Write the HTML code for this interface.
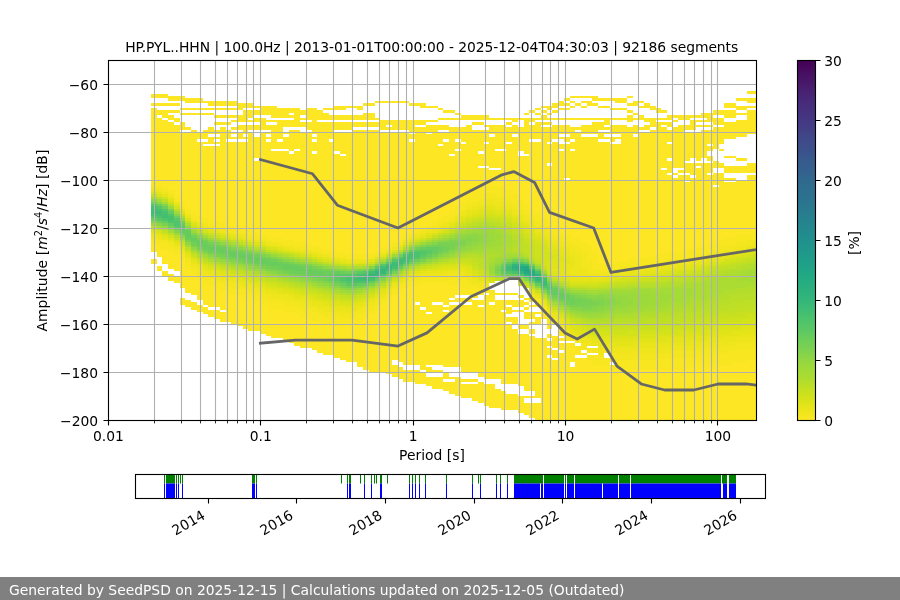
<!DOCTYPE html>
<html lang="en"><head><meta charset="utf-8"><title>HP.PYL..HHN PPSD</title>
<style>html,body{margin:0;padding:0;background:#fff;overflow:hidden}svg{display:block}text{font-family:'DejaVu Sans', 'Liberation Sans', sans-serif;font-size:13.89px;fill:#000}</style></head>
<body>
<svg width="900" height="600" viewBox="0 0 900 600">
<rect width="900" height="600" fill="#fff"/>
<g shape-rendering="crispEdges">
<path fill="#fde725" d="M151 93.6H168.2V98.4H151zM151 103.2H179.67V105.6H151zM363.14 103.2H374.6V105.6H363.14zM409.01 103.2H420.47V105.6H409.01zM563.81 103.2H569.54V105.6H563.81zM575.27 103.2H581.01V105.6H575.27zM592.47 103.2H598.21V105.6H592.47zM626.88 103.2H632.61V105.6H626.88zM151 108H156.73V182.4H151zM151 244.8H156.73V252H151zM151 259.2H156.73V264H151zM156.73 110.4H162.47V115.2H156.73zM254.2 110.4H259.94V115.2H254.2zM300.07 110.4H305.8V115.2H300.07zM712.88 110.4H724.34V115.2H712.88zM156.73 117.6H162.47V184.8H156.73zM156.73 247.2H162.47V256.8H156.73zM156.73 266.4H162.47V271.2H156.73zM162.47 110.4H168.2V117.6H162.47zM248.47 110.4H254.2V117.6H248.47zM724.34 110.4H735.81V117.6H724.34zM162.47 120H168.2V187.2H162.47zM162.47 249.6H168.2V264H162.47zM162.47 271.2H168.2V276H162.47zM168.2 96H185.4V100.8H168.2zM592.47 96H598.21V100.8H592.47zM168.2 110.4H179.67V112.8H168.2zM443.41 110.4H454.87V112.8H443.41zM529.41 110.4H535.14V112.8H529.41zM540.87 110.4H546.61V112.8H540.87zM552.34 110.4H558.07V112.8H552.34zM626.88 110.4H632.61V112.8H626.88zM661.28 110.4H667.01V112.8H661.28zM168.2 115.2H173.93V120H168.2zM328.74 115.2H363.14V120H328.74zM460.61 115.2H489.27V120H460.61zM540.87 115.2H546.61V120H540.87zM638.34 115.2H644.08V120H638.34zM667.01 115.2H672.74V120H667.01zM678.48 115.2H689.94V120H678.48zM168.2 122.4H173.93V189.6H168.2zM168.2 252H173.93V268.8H168.2zM168.2 273.6H173.93V280.8H168.2zM173.93 117.6H179.67V122.4H173.93zM254.2 117.6H259.94V122.4H254.2zM512.21 117.6H517.94V122.4H512.21zM529.41 117.6H535.14V122.4H529.41zM644.08 117.6H649.81V122.4H644.08zM173.93 124.8H179.67V196.8H173.93zM466.34 124.8H472.07V196.8H466.34zM173.93 254.4H179.67V271.2H173.93zM173.93 276H179.67V283.2H173.93zM179.67 108H237V110.4H179.67zM323 108H334.47V110.4H323zM437.67 108H443.41V110.4H437.67zM535.14 108H540.87V110.4H535.14zM558.07 108H569.54V110.4H558.07zM609.68 108H626.88V110.4H609.68zM179.67 112.8H214.07V115.2H179.67zM454.87 112.8H460.61V115.2H454.87zM523.67 112.8H529.41V115.2H523.67zM535.14 112.8H540.87V115.2H535.14zM546.61 112.8H552.34V115.2H546.61zM632.61 112.8H638.34V115.2H632.61zM735.81 112.8H747.28V115.2H735.81zM179.67 122.4H185.4V129.6H179.67zM305.8 122.4H311.54V129.6H305.8zM334.47 122.4H351.67V129.6H334.47zM598.21 122.4H603.94V129.6H598.21zM179.67 132H185.4V201.6H179.67zM179.67 259.2H185.4V288H179.67zM179.67 297.6H185.4V304.8H179.67zM185.4 98.4H202.6V103.2H185.4zM615.41 98.4H626.88V103.2H615.41zM747.28 98.4H756V103.2H747.28zM185.4 127.2H191.13V129.6H185.4zM231.27 127.2H237V129.6H231.27zM386.07 127.2H391.8V129.6H386.07zM575.27 127.2H581.01V129.6H575.27zM603.94 127.2H609.68V129.6H603.94zM638.34 127.2H644.08V129.6H638.34zM185.4 132H191.13V208.8H185.4zM185.4 268.8H191.13V292.8H185.4zM185.4 300H191.13V307.2H185.4zM512.21 300H523.67V307.2H512.21zM191.13 129.6H196.87V213.6H191.13zM191.13 273.6H196.87V295.2H191.13zM191.13 302.4H196.87V309.6H191.13zM196.87 132H202.6V139.2H196.87zM237 132H242.74V139.2H237zM443.41 132H449.14V139.2H443.41zM598.21 132H603.94V139.2H598.21zM196.87 141.6H202.6V216H196.87zM443.41 141.6H449.14V216H443.41zM196.87 278.4H202.6V300H196.87zM196.87 304.8H202.6V312H196.87zM202.6 100.8H208.34V103.2H202.6zM374.6 100.8H409.01V103.2H374.6zM569.54 100.8H575.27V103.2H569.54zM581.01 100.8H586.74V103.2H581.01zM638.34 100.8H644.08V103.2H638.34zM202.6 129.6H208.34V139.2H202.6zM225.54 129.6H231.27V139.2H225.54zM202.6 141.6H208.34V144H202.6zM214.07 141.6H219.8V144H214.07zM202.6 146.4H208.34V218.4H202.6zM437.67 146.4H443.41V218.4H437.67zM202.6 283.2H208.34V304.8H202.6zM443.41 283.2H449.14V304.8H443.41zM202.6 307.2H208.34V314.4H202.6zM506.47 307.2H512.21V314.4H506.47zM208.34 100.8H237V105.6H208.34zM558.07 100.8H563.81V105.6H558.07zM586.74 100.8H592.47V105.6H586.74zM632.61 100.8H638.34V105.6H632.61zM208.34 127.2H214.07V134.4H208.34zM208.34 136.8H214.07V144H208.34zM208.34 146.4H214.07V220.8H208.34zM208.34 285.6H214.07V307.2H208.34zM208.34 309.6H214.07V316.8H208.34zM214.07 115.2H237V117.6H214.07zM288.6 115.2H294.34V117.6H288.6zM672.74 115.2H678.48V117.6H672.74zM689.94 115.2H701.41V117.6H689.94zM214.07 122.4H231.27V124.8H214.07zM472.07 122.4H483.54V124.8H472.07zM506.47 122.4H512.21V124.8H506.47zM540.87 122.4H552.34V124.8H540.87zM661.28 122.4H667.01V124.8H661.28zM214.07 129.6H219.8V134.4H214.07zM214.07 136.8H219.8V139.2H214.07zM231.27 136.8H237V139.2H231.27zM242.74 136.8H248.47V139.2H242.74zM265.67 136.8H271.4V139.2H265.67zM311.54 136.8H317.27V139.2H311.54zM558.07 136.8H563.81V139.2H558.07zM603.94 136.8H609.68V139.2H603.94zM615.41 136.8H621.14V139.2H615.41zM214.07 146.4H219.8V223.2H214.07zM214.07 288H219.8V307.2H214.07zM214.07 309.6H219.8V319.2H214.07zM219.8 127.2H225.54V223.2H219.8zM219.8 290.4H225.54V309.6H219.8zM219.8 312H225.54V321.6H219.8zM225.54 141.6H231.27V225.6H225.54zM225.54 292.8H231.27V321.6H225.54zM231.27 120H237V122.4H231.27zM248.47 120H254.2V122.4H248.47zM265.67 120H277.14V122.4H265.67zM426.21 120H437.67V122.4H426.21zM672.74 120H678.48V122.4H672.74zM695.68 120H707.14V122.4H695.68zM231.27 132H237V134.4H231.27zM265.67 132H271.4V134.4H265.67zM282.87 132H288.6V134.4H282.87zM603.94 132H609.68V134.4H603.94zM231.27 141.6H242.74V228H231.27zM552.34 141.6H558.07V228H552.34zM231.27 295.2H237V324H231.27zM237 103.2H242.74V110.4H237zM237 115.2H242.74V122.4H237zM626.88 115.2H632.61V122.4H626.88zM237 124.8H242.74V129.6H237zM248.47 124.8H259.94V129.6H248.47zM265.67 124.8H271.4V129.6H265.67zM437.67 124.8H449.14V129.6H437.67zM644.08 124.8H649.81V129.6H644.08zM684.21 124.8H689.94V129.6H684.21zM237 295.2H242.74V326.4H237zM242.74 103.2H254.2V108H242.74zM420.47 103.2H426.21V108H420.47zM552.34 103.2H558.07V108H552.34zM644.08 103.2H649.81V108H644.08zM724.34 103.2H735.81V108H724.34zM242.74 110.4H248.47V122.4H242.74zM242.74 124.8H248.47V134.4H242.74zM489.27 124.8H495.01V134.4H489.27zM512.21 124.8H517.94V134.4H512.21zM558.07 124.8H569.54V134.4H558.07zM581.01 124.8H592.47V134.4H581.01zM609.68 124.8H621.14V134.4H609.68zM632.61 124.8H638.34V134.4H632.61zM242.74 141.6H248.47V230.4H242.74zM242.74 297.6H248.47V328.8H242.74zM248.47 132H254.2V230.4H248.47zM248.47 300H254.2V331.2H248.47zM254.2 105.6H259.94V108H254.2zM345.94 105.6H357.4V108H345.94zM426.21 105.6H437.67V108H426.21zM540.87 105.6H546.61V108H540.87zM569.54 105.6H575.27V108H569.54zM581.01 105.6H586.74V108H581.01zM598.21 105.6H609.68V108H598.21zM638.34 105.6H644.08V108H638.34zM747.28 105.6H756V108H747.28zM254.2 136.8H259.94V158.4H254.2zM254.2 160.8H259.94V232.8H254.2zM254.2 302.4H259.94V331.2H254.2zM259.94 105.6H271.4V115.2H259.94zM259.94 117.6H265.67V129.6H259.94zM259.94 132H265.67V235.2H259.94zM403.27 132H409.01V235.2H403.27zM259.94 304.8H265.67V333.6H259.94zM265.67 141.6H271.4V235.2H265.67zM265.67 307.2H271.4V336H265.67zM271.4 105.6H277.14V117.6H271.4zM271.4 124.8H277.14V148.8H271.4zM495.01 124.8H506.47V148.8H495.01zM271.4 151.2H282.87V237.6H271.4zM569.54 151.2H575.27V237.6H569.54zM271.4 309.6H282.87V338.4H271.4zM277.14 108H288.6V117.6H277.14zM277.14 120H282.87V139.2H277.14zM277.14 141.6H282.87V148.8H277.14zM454.87 141.6H460.61V148.8H454.87zM569.54 141.6H575.27V148.8H569.54zM282.87 120H294.34V127.2H282.87zM282.87 136.8H288.6V148.8H282.87zM282.87 151.2H288.6V240H282.87zM282.87 312H288.6V340.8H282.87zM288.6 108H294.34V112.8H288.6zM655.54 108H661.28V112.8H655.54zM288.6 129.6H294.34V151.2H288.6zM477.81 129.6H483.54V151.2H477.81zM288.6 153.6H294.34V240H288.6zM288.6 312H294.34V343.2H288.6zM294.34 108H300.07V127.2H294.34zM294.34 129.6H300.07V148.8H294.34zM294.34 151.2H300.07V242.4H294.34zM294.34 314.4H300.07V345.6H294.34zM300.07 117.6H305.8V120H300.07zM374.6 117.6H380.34V120H374.6zM437.67 117.6H460.61V120H437.67zM489.27 117.6H512.21V120H489.27zM517.94 117.6H523.67V120H517.94zM535.14 117.6H540.87V120H535.14zM546.61 117.6H603.94V120H546.61zM609.68 117.6H626.88V120H609.68zM632.61 117.6H638.34V120H632.61zM655.54 117.6H667.01V120H655.54zM300.07 122.4H305.8V127.2H300.07zM351.67 122.4H380.34V127.2H351.67zM667.01 122.4H672.74V127.2H667.01zM300.07 132H305.8V242.4H300.07zM391.8 132H397.54V242.4H391.8zM300.07 316.8H305.8V348H300.07zM305.8 108H311.54V120H305.8zM305.8 132H311.54V244.8H305.8zM386.07 132H391.8V244.8H386.07zM305.8 319.2H311.54V348H305.8zM311.54 108H317.27V134.4H311.54zM311.54 141.6H317.27V151.2H311.54zM311.54 153.6H317.27V247.2H311.54zM311.54 321.6H317.27V350.4H311.54zM317.27 110.4H323V120H317.27zM317.27 122.4H323V247.2H317.27zM317.27 321.6H323V352.8H317.27zM323 112.8H328.74V120H323zM363.14 112.8H374.6V120H363.14zM323 122.4H328.74V249.6H323zM323 324H328.74V355.2H323zM328.74 122.4H334.47V139.2H328.74zM535.14 122.4H540.87V139.2H535.14zM724.34 122.4H735.81V139.2H724.34zM328.74 141.6H334.47V252H328.74zM328.74 326.4H334.47V355.2H328.74zM334.47 105.6H345.94V110.4H334.47zM357.4 105.6H363.14V110.4H357.4zM546.61 105.6H552.34V110.4H546.61zM649.81 105.6H655.54V110.4H649.81zM735.81 105.6H747.28V110.4H735.81zM334.47 132H340.2V151.2H334.47zM334.47 153.6H340.2V252H334.47zM334.47 326.4H340.2V357.6H334.47zM340.2 132H345.94V153.6H340.2zM340.2 156H345.94V254.4H340.2zM340.2 326.4H345.94V360H340.2zM345.94 132H351.67V254.4H345.94zM345.94 326.4H351.67V362.4H345.94zM351.67 129.6H374.6V254.4H351.67zM351.67 324H357.4V362.4H351.67zM357.4 321.6H363.14V367.2H357.4zM363.14 319.2H368.87V369.6H363.14zM368.87 314.4H374.6V372H368.87zM374.6 129.6H380.34V252H374.6zM374.6 309.6H380.34V372H374.6zM380.34 120H386.07V129.6H380.34zM391.8 120H409.01V129.6H391.8zM689.94 120H695.68V129.6H689.94zM380.34 132H386.07V247.2H380.34zM380.34 304.8H386.07V372H380.34zM460.61 304.8H472.07V372H460.61zM386.07 120H391.8V124.8H386.07zM414.74 120H426.21V124.8H414.74zM386.07 300H391.8V374.4H386.07zM391.8 295.2H397.54V360H391.8zM391.8 364.8H397.54V376.8H391.8zM397.54 132H403.27V240H397.54zM397.54 290.4H403.27V362.4H397.54zM397.54 367.2H403.27V379.2H397.54zM403.27 288H409.01V364.8H403.27zM403.27 369.6H414.74V381.6H403.27zM409.01 120H414.74V132H409.01zM409.01 134.4H414.74V139.2H409.01zM409.01 141.6H414.74V232.8H409.01zM409.01 285.6H414.74V364.8H409.01zM414.74 127.2H420.47V230.4H414.74zM414.74 285.6H420.47V302.4H414.74zM414.74 304.8H420.47V364.8H414.74zM431.94 304.8H443.41V364.8H431.94zM414.74 369.6H420.47V384H414.74zM420.47 127.2H426.21V228H420.47zM420.47 283.2H426.21V307.2H420.47zM420.47 309.6H426.21V369.6H420.47zM420.47 372H426.21V384H420.47zM426.21 124.8H431.94V132H426.21zM426.21 134.4H431.94V225.6H426.21zM426.21 283.2H431.94V312H426.21zM426.21 314.4H431.94V364.8H426.21zM426.21 367.2H431.94V372H426.21zM426.21 376.8H431.94V386.4H426.21zM431.94 124.8H437.67V220.8H431.94zM431.94 283.2H443.41V302.4H431.94zM431.94 369.6H443.41V372H431.94zM431.94 376.8H443.41V388.8H431.94zM437.67 132H443.41V144H437.67zM443.41 307.2H449.14V309.6H443.41zM523.67 307.2H529.41V309.6H523.67zM443.41 312H449.14V367.2H443.41zM443.41 372H449.14V379.2H443.41zM443.41 381.6H449.14V391.2H443.41zM449.14 127.2H454.87V153.6H449.14zM449.14 156H454.87V211.2H449.14zM449.14 285.6H454.87V297.6H449.14zM449.14 300H454.87V302.4H449.14zM449.14 304.8H460.61V367.2H449.14zM449.14 376.8H454.87V379.2H449.14zM449.14 381.6H454.87V393.6H449.14zM454.87 127.2H460.61V139.2H454.87zM569.54 127.2H575.27V139.2H569.54zM454.87 151.2H460.61V206.4H454.87zM454.87 285.6H460.61V295.2H454.87zM454.87 297.6H472.07V302.4H454.87zM454.87 376.8H460.61V396H454.87zM460.61 127.2H466.34V141.6H460.61zM506.47 127.2H512.21V141.6H506.47zM546.61 127.2H552.34V141.6H546.61zM460.61 144H466.34V201.6H460.61zM460.61 288H466.34V295.2H460.61zM460.61 379.2H477.81V381.6H460.61zM460.61 384H472.07V398.4H460.61zM466.34 290.4H472.07V295.2H466.34zM472.07 129.6H477.81V192H472.07zM472.07 290.4H477.81V297.6H472.07zM472.07 300H477.81V372H472.07zM472.07 384H477.81V400.8H472.07zM477.81 153.6H483.54V165.6H477.81zM477.81 168H483.54V189.6H477.81zM477.81 292.8H483.54V295.2H477.81zM477.81 300H483.54V304.8H477.81zM506.47 300H512.21V304.8H506.47zM477.81 307.2H483.54V376.8H477.81zM477.81 381.6H483.54V403.2H477.81zM483.54 124.8H489.27V127.2H483.54zM695.68 124.8H712.88V127.2H695.68zM483.54 129.6H489.27V141.6H483.54zM667.01 129.6H672.74V141.6H667.01zM483.54 144H489.27V165.6H483.54zM483.54 168H489.27V187.2H483.54zM483.54 295.2H489.27V379.2H483.54zM483.54 384H489.27V405.6H483.54zM489.27 136.8H495.01V168H489.27zM489.27 170.4H495.01V184.8H489.27zM489.27 295.2H495.01V302.4H489.27zM489.27 304.8H495.01V379.2H489.27zM489.27 384H495.01V408H489.27zM495.01 151.2H500.74V168H495.01zM495.01 170.4H500.74V187.2H495.01zM495.01 300H500.74V379.2H495.01zM495.01 388.8H500.74V408H495.01zM500.74 151.2H506.47V187.2H500.74zM500.74 300H506.47V309.6H500.74zM500.74 312H506.47V384H500.74zM500.74 391.2H506.47V410.4H500.74zM506.47 144H512.21V189.6H506.47zM506.47 316.8H512.21V321.6H506.47zM506.47 324H512.21V384H506.47zM506.47 393.6H517.94V410.4H506.47zM512.21 136.8H517.94V194.4H512.21zM512.21 309.6H523.67V312H512.21zM512.21 316.8H517.94V324H512.21zM535.14 316.8H540.87V324H535.14zM512.21 328.8H517.94V384H512.21zM517.94 127.2H523.67V151.2H517.94zM517.94 156H523.67V199.2H517.94zM517.94 324H529.41V328.8H517.94zM517.94 333.6H523.67V386.4H517.94zM517.94 396H523.67V412.8H517.94zM523.67 117.6H529.41V153.6H523.67zM523.67 156H529.41V204H523.67zM523.67 302.4H529.41V304.8H523.67zM523.67 312H535.14V319.2H523.67zM540.87 312H546.61V319.2H540.87zM523.67 333.6H529.41V391.2H523.67zM523.67 396H535.14V398.4H523.67zM523.67 403.2H529.41V415.2H523.67zM529.41 124.8H535.14V139.2H529.41zM552.34 124.8H558.07V139.2H552.34zM529.41 141.6H535.14V208.8H529.41zM529.41 304.8H540.87V307.2H529.41zM529.41 321.6H535.14V324H529.41zM529.41 328.8H535.14V333.6H529.41zM529.41 336H535.14V391.2H529.41zM529.41 403.2H535.14V417.6H529.41zM535.14 141.6H540.87V213.6H535.14zM535.14 312H540.87V314.4H535.14zM535.14 338.4H540.87V398.4H535.14zM535.14 403.2H540.87V420H535.14zM540.87 127.2H546.61V218.4H540.87zM540.87 338.4H546.61V420H540.87zM546.61 144H552.34V163.2H546.61zM546.61 165.6H552.34V223.2H546.61zM546.61 321.6H552.34V328.8H546.61zM546.61 333.6H552.34V338.4H546.61zM546.61 340.8H552.34V345.6H546.61zM546.61 348H552.34V355.2H546.61zM546.61 357.6H552.34V420H546.61zM575.27 357.6H586.74V420H575.27zM552.34 336H558.07V348H552.34zM552.34 350.4H558.07V357.6H552.34zM552.34 360H558.07V420H552.34zM586.74 360H592.47V420H586.74zM747.28 360H756V420H747.28zM558.07 144H563.81V148.8H558.07zM558.07 151.2H563.81V232.8H558.07zM558.07 338.4H563.81V340.8H558.07zM558.07 343.2H563.81V350.4H558.07zM558.07 352.8H563.81V420H558.07zM563.81 98.4H569.54V100.8H563.81zM598.21 98.4H615.41V100.8H598.21zM735.81 98.4H747.28V100.8H735.81zM563.81 136.8H569.54V141.6H563.81zM609.68 136.8H615.41V141.6H609.68zM563.81 144H569.54V177.6H563.81zM563.81 180H569.54V235.2H563.81zM735.81 180H747.28V235.2H735.81zM563.81 343.2H569.54V420H563.81zM569.54 96H592.47V98.4H569.54zM626.88 96H632.61V98.4H626.88zM569.54 348H575.27V362.4H569.54zM569.54 367.2H575.27V420H569.54zM603.94 367.2H609.68V420H603.94zM684.21 367.2H712.88V420H684.21zM575.27 132H581.01V237.6H575.27zM575.27 352.8H581.01V355.2H575.27zM581.01 136.8H586.74V242.4H581.01zM586.74 136.8H592.47V244.8H586.74zM592.47 122.4H598.21V134.4H592.47zM592.47 136.8H598.21V252H592.47zM592.47 364.8H603.94V420H592.47zM712.88 364.8H730.08V420H712.88zM598.21 141.6H609.68V264H598.21zM603.94 117.6H609.68V124.8H603.94zM712.88 117.6H724.34V124.8H712.88zM609.68 144H615.41V264H609.68zM609.68 369.6H684.21V420H609.68zM615.41 144H621.14V261.6H615.41zM621.14 124.8H626.88V261.6H621.14zM626.88 127.2H632.61V259.2H626.88zM632.61 136.8H638.34V259.2H632.61zM638.34 132H649.81V256.8H638.34zM649.81 117.6H655.54V127.2H649.81zM649.81 129.6H655.54V256.8H649.81zM655.54 122.4H661.28V254.4H655.54zM661.28 127.2H667.01V168H661.28zM672.74 127.2H678.48V168H672.74zM661.28 170.4H667.01V254.4H661.28zM667.01 144H672.74V158.4H667.01zM667.01 160.8H672.74V172.8H667.01zM667.01 175.2H672.74V252H667.01zM678.48 175.2H684.21V252H678.48zM672.74 172.8H678.48V175.2H672.74zM672.74 177.6H678.48V252H672.74zM678.48 124.8H684.21V168H678.48zM678.48 170.4H684.21V172.8H678.48zM684.21 132H689.94V160.8H684.21zM695.68 132H701.41V160.8H695.68zM684.21 163.2H689.94V172.8H684.21zM707.14 163.2H712.88V172.8H707.14zM747.28 163.2H756V172.8H747.28zM684.21 175.2H689.94V180H684.21zM684.21 182.4H689.94V249.6H684.21zM689.94 132H695.68V158.4H689.94zM689.94 163.2H695.68V175.2H689.94zM689.94 177.6H695.68V249.6H689.94zM695.68 163.2H701.41V165.6H695.68zM695.68 168H701.41V247.2H695.68zM701.41 112.8H707.14V117.6H701.41zM701.41 129.6H707.14V158.4H701.41zM701.41 163.2H707.14V247.2H701.41zM707.14 112.8H712.88V122.4H707.14zM707.14 129.6H712.88V144H707.14zM707.14 146.4H712.88V151.2H707.14zM707.14 156H712.88V160.8H707.14zM707.14 175.2H712.88V244.8H707.14zM712.88 127.2H718.61V148.8H712.88zM712.88 160.8H718.61V168H712.88zM712.88 172.8H718.61V184.8H712.88zM712.88 187.2H718.61V242.4H712.88zM718.61 127.2H724.34V144H718.61zM718.61 148.8H724.34V151.2H718.61zM718.61 163.2H724.34V168H718.61zM718.61 172.8H724.34V240H718.61zM724.34 156H735.81V158.4H724.34zM724.34 165.6H747.28V172.8H724.34zM724.34 177.6H735.81V180H724.34zM724.34 182.4H735.81V237.6H724.34zM730.08 362.4H747.28V420H730.08zM735.81 120H747.28V136.8H735.81zM735.81 158.4H747.28V160.8H735.81zM747.28 91.2H756V93.6H747.28zM747.28 110.4H756V134.4H747.28zM747.28 175.2H753.01V235.2H747.28zM753.01 175.2H756V232.8H753.01z"/>
<path fill="#f8e621" d="M151 182.4H156.73V187.2H151zM151 240H156.73V244.8H151zM282.87 240H294.34V244.8H282.87zM156.73 184.8H162.47V187.2H156.73zM156.73 242.4H162.47V247.2H156.73zM294.34 242.4H305.8V247.2H294.34zM391.8 242.4H397.54V247.2H391.8zM162.47 187.2H168.2V189.6H162.47zM162.47 242.4H168.2V249.6H162.47zM712.88 242.4H718.61V249.6H712.88zM168.2 189.6H173.93V194.4H168.2zM168.2 247.2H173.93V252H168.2zM317.27 247.2H323V252H317.27zM380.34 247.2H386.07V252H380.34zM173.93 196.8H179.67V201.6H173.93zM173.93 249.6H179.67V254.4H173.93zM323 249.6H328.74V254.4H323zM179.67 201.6H185.4V206.4H179.67zM179.67 254.4H185.4V259.2H179.67zM345.94 254.4H368.87V259.2H345.94zM185.4 208.8H191.13V213.6H185.4zM185.4 261.6H191.13V268.8H185.4zM615.41 261.6H621.14V268.8H615.41zM191.13 213.6H196.87V218.4H191.13zM191.13 268.8H196.87V273.6H191.13zM196.87 216H202.6V220.8H196.87zM443.41 216H449.14V220.8H443.41zM196.87 273.6H202.6V278.4H196.87zM202.6 218.4H208.34V223.2H202.6zM437.67 218.4H443.41V223.2H437.67zM202.6 276H208.34V283.2H202.6zM208.34 220.8H214.07V225.6H208.34zM431.94 220.8H437.67V225.6H431.94zM208.34 278.4H214.07V285.6H208.34zM449.14 278.4H460.61V285.6H449.14zM214.07 223.2H225.54V228H214.07zM214.07 280.8H219.8V288H214.07zM219.8 283.2H225.54V290.4H219.8zM466.34 283.2H472.07V290.4H466.34zM225.54 225.6H231.27V230.4H225.54zM225.54 285.6H231.27V292.8H225.54zM231.27 228H237V230.4H231.27zM420.47 228H426.21V230.4H420.47zM231.27 288H237V295.2H231.27zM237 228H242.74V232.8H237zM237 290.4H242.74V295.2H237zM391.8 290.4H397.54V295.2H391.8zM489.27 290.4H495.01V295.2H489.27zM242.74 230.4H248.47V232.8H242.74zM414.74 230.4H420.47V232.8H414.74zM242.74 290.4H248.47V297.6H242.74zM248.47 230.4H254.2V235.2H248.47zM248.47 292.8H254.2V300H248.47zM254.2 232.8H259.94V237.6H254.2zM558.07 232.8H563.81V237.6H558.07zM254.2 295.2H259.94V302.4H254.2zM259.94 235.2H265.67V237.6H259.94zM259.94 297.6H265.67V304.8H259.94zM265.67 235.2H271.4V240H265.67zM403.27 235.2H409.01V240H403.27zM747.28 235.2H753.01V240H747.28zM265.67 300H271.4V307.2H265.67zM271.4 237.6H282.87V242.4H271.4zM271.4 300H277.14V309.6H271.4zM277.14 302.4H282.87V309.6H277.14zM282.87 304.8H294.34V312H282.87zM294.34 307.2H300.07V314.4H294.34zM300.07 309.6H305.8V316.8H300.07zM305.8 244.8H311.54V249.6H305.8zM386.07 244.8H391.8V249.6H386.07zM305.8 309.6H311.54V319.2H305.8zM311.54 247.2H317.27V249.6H311.54zM311.54 312H317.27V321.6H311.54zM317.27 314.4H323V321.6H317.27zM357.4 314.4H363.14V321.6H357.4zM546.61 314.4H552.34V321.6H546.61zM323 316.8H328.74V324H323zM351.67 316.8H357.4V324H351.67zM328.74 252H334.47V254.4H328.74zM374.6 252H380.34V254.4H374.6zM328.74 316.8H340.2V326.4H328.74zM334.47 252H340.2V256.8H334.47zM340.2 254.4H345.94V256.8H340.2zM368.87 254.4H374.6V256.8H368.87zM340.2 319.2H351.67V326.4H340.2zM363.14 312H368.87V319.2H363.14zM368.87 309.6H374.6V314.4H368.87zM374.6 304.8H380.34V309.6H374.6zM380.34 300H386.07V304.8H380.34zM535.14 300H540.87V304.8H535.14zM386.07 295.2H391.8V300H386.07zM397.54 240H403.27V242.4H397.54zM397.54 285.6H403.27V290.4H397.54zM472.07 285.6H477.81V290.4H472.07zM403.27 283.2H409.01V288H403.27zM409.01 232.8H414.74V235.2H409.01zM409.01 280.8H420.47V285.6H409.01zM420.47 278.4H449.14V283.2H420.47zM426.21 225.6H431.94V228H426.21zM449.14 211.2H454.87V218.4H449.14zM454.87 206.4H460.61V213.6H454.87zM460.61 201.6H466.34V208.8H460.61zM460.61 278.4H466.34V288H460.61zM466.34 196.8H472.07V204H466.34zM472.07 192H477.81V201.6H472.07zM477.81 189.6H483.54V199.2H477.81zM506.47 189.6H512.21V199.2H506.47zM477.81 288H489.27V292.8H477.81zM483.54 187.2H489.27V194.4H483.54zM489.27 184.8H495.01V194.4H489.27zM495.01 187.2H506.47V196.8H495.01zM495.01 292.8H517.94V295.2H495.01zM512.21 194.4H517.94V204H512.21zM517.94 199.2H523.67V208.8H517.94zM517.94 295.2H523.67V297.6H517.94zM523.67 204H529.41V213.6H523.67zM523.67 297.6H529.41V300H523.67zM529.41 208.8H535.14V216H529.41zM529.41 297.6H535.14V302.4H529.41zM535.14 213.6H540.87V220.8H535.14zM540.87 218.4H546.61V225.6H540.87zM540.87 307.2H546.61V312H540.87zM546.61 223.2H552.34V230.4H546.61zM552.34 228H558.07V235.2H552.34zM552.34 321.6H558.07V324H552.34zM558.07 328.8H563.81V336H558.07zM563.81 235.2H569.54V242.4H563.81zM735.81 235.2H747.28V242.4H735.81zM563.81 336H569.54V340.8H563.81zM569.54 237.6H575.27V244.8H569.54zM724.34 237.6H735.81V244.8H724.34zM569.54 343.2H575.27V348H569.54zM575.27 237.6H581.01V247.2H575.27zM575.27 345.6H581.01V352.8H575.27zM581.01 242.4H586.74V252H581.01zM581.01 348H586.74V350.4H581.01zM581.01 352.8H586.74V355.2H581.01zM586.74 244.8H592.47V261.6H586.74zM586.74 350.4H592.47V352.8H586.74zM586.74 355.2H592.47V360H586.74zM592.47 252H598.21V268.8H592.47zM592.47 355.2H603.94V364.8H592.47zM598.21 264H609.68V271.2H598.21zM603.94 357.6H609.68V367.2H603.94zM684.21 357.6H695.68V367.2H684.21zM609.68 264H615.41V268.8H609.68zM609.68 357.6H615.41V362.4H609.68zM609.68 364.8H615.41V369.6H609.68zM615.41 360H655.54V369.6H615.41zM621.14 261.6H626.88V266.4H621.14zM626.88 259.2H638.34V266.4H626.88zM638.34 256.8H655.54V264H638.34zM655.54 254.4H667.01V261.6H655.54zM655.54 357.6H684.21V369.6H655.54zM667.01 252H684.21V259.2H667.01zM684.21 249.6H695.68V256.8H684.21zM695.68 247.2H707.14V254.4H695.68zM695.68 355.2H712.88V367.2H695.68zM707.14 244.8H712.88V252H707.14zM712.88 352.8H730.08V364.8H712.88zM718.61 240H724.34V247.2H718.61zM730.08 350.4H747.28V362.4H730.08zM747.28 350.4H753.01V360H747.28zM753.01 232.8H756V240H753.01zM753.01 348H756V360H753.01z"/>
<path fill="#f4e61e" d="M151 237.6H156.73V240H151zM254.2 237.6H265.67V240H254.2zM156.73 187.2H162.47V189.6H156.73zM156.73 240H168.2V242.4H156.73zM265.67 240H271.4V242.4H265.67zM753.01 240H756V242.4H753.01zM162.47 189.6H168.2V192H162.47zM168.2 194.4H173.93V196.8H168.2zM168.2 242.4H173.93V247.2H168.2zM563.81 242.4H569.54V247.2H563.81zM735.81 242.4H747.28V247.2H735.81zM173.93 247.2H179.67V249.6H173.93zM294.34 247.2H305.8V249.6H294.34zM179.67 206.4H185.4V208.8H179.67zM179.67 252H185.4V254.4H179.67zM317.27 252H323V254.4H317.27zM380.34 252H386.07V254.4H380.34zM707.14 252H712.88V254.4H707.14zM185.4 259.2H191.13V261.6H185.4zM678.48 259.2H684.21V261.6H678.48zM191.13 218.4H196.87V220.8H191.13zM449.14 218.4H454.87V220.8H449.14zM191.13 266.4H196.87V268.8H191.13zM626.88 266.4H638.34V268.8H626.88zM196.87 220.8H202.6V223.2H196.87zM443.41 220.8H449.14V223.2H443.41zM196.87 268.8H202.6V273.6H196.87zM592.47 268.8H598.21V273.6H592.47zM609.68 268.8H615.41V273.6H609.68zM202.6 223.2H208.34V225.6H202.6zM437.67 223.2H443.41V225.6H437.67zM202.6 273.6H208.34V276H202.6zM208.34 225.6H214.07V228H208.34zM431.94 225.6H437.67V228H431.94zM208.34 276H214.07V278.4H208.34zM420.47 276H437.67V278.4H420.47zM460.61 276H466.34V278.4H460.61zM214.07 278.4H219.8V280.8H214.07zM409.01 278.4H420.47V280.8H409.01zM219.8 228H225.54V230.4H219.8zM426.21 228H431.94V230.4H426.21zM219.8 280.8H225.54V283.2H219.8zM403.27 280.8H409.01V283.2H403.27zM225.54 230.4H237V232.8H225.54zM420.47 230.4H426.21V232.8H420.47zM225.54 280.8H231.27V285.6H225.54zM231.27 283.2H237V288H231.27zM477.81 283.2H483.54V288H477.81zM237 232.8H248.47V235.2H237zM414.74 232.8H420.47V235.2H414.74zM237 285.6H242.74V290.4H237zM242.74 288H248.47V290.4H242.74zM391.8 288H397.54V290.4H391.8zM248.47 235.2H254.2V237.6H248.47zM409.01 235.2H414.74V237.6H409.01zM248.47 290.4H254.2V292.8H248.47zM254.2 290.4H259.94V295.2H254.2zM259.94 292.8H265.67V297.6H259.94zM265.67 295.2H271.4V300H265.67zM271.4 297.6H277.14V300H271.4zM380.34 297.6H386.07V300H380.34zM535.14 297.6H540.87V300H535.14zM277.14 242.4H282.87V244.8H277.14zM397.54 242.4H403.27V244.8H397.54zM277.14 297.6H282.87V302.4H277.14zM282.87 244.8H294.34V247.2H282.87zM282.87 300H294.34V304.8H282.87zM374.6 300H380.34V304.8H374.6zM294.34 302.4H300.07V307.2H294.34zM300.07 304.8H305.8V309.6H300.07zM368.87 304.8H374.6V309.6H368.87zM305.8 307.2H311.54V309.6H305.8zM311.54 249.6H317.27V252H311.54zM311.54 307.2H317.27V312H311.54zM363.14 307.2H368.87V312H363.14zM317.27 309.6H323V314.4H317.27zM357.4 309.6H363.14V314.4H357.4zM323 312H340.2V316.8H323zM351.67 312H357.4V316.8H351.67zM328.74 254.4H334.47V256.8H328.74zM374.6 254.4H380.34V256.8H374.6zM701.41 254.4H707.14V256.8H701.41zM340.2 256.8H345.94V259.2H340.2zM368.87 256.8H374.6V259.2H368.87zM689.94 256.8H695.68V259.2H689.94zM340.2 314.4H351.67V319.2H340.2zM386.07 292.8H391.8V295.2H386.07zM397.54 283.2H403.27V285.6H397.54zM472.07 283.2H477.81V285.6H472.07zM437.67 273.6H460.61V278.4H437.67zM454.87 213.6H460.61V216H454.87zM460.61 208.8H466.34V211.2H460.61zM466.34 204H472.07V208.8H466.34zM512.21 204H517.94V208.8H512.21zM466.34 278.4H472.07V283.2H466.34zM472.07 201.6H477.81V206.4H472.07zM477.81 199.2H483.54V204H477.81zM506.47 199.2H512.21V204H506.47zM483.54 194.4H495.01V199.2H483.54zM483.54 285.6H489.27V288H483.54zM495.01 196.8H506.47V201.6H495.01zM517.94 208.8H523.67V213.6H517.94zM523.67 213.6H529.41V218.4H523.67zM529.41 216H535.14V220.8H529.41zM529.41 295.2H535.14V297.6H529.41zM535.14 220.8H540.87V225.6H535.14zM540.87 225.6H546.61V230.4H540.87zM540.87 304.8H546.61V307.2H540.87zM546.61 230.4H552.34V235.2H546.61zM546.61 312H552.34V314.4H546.61zM552.34 235.2H558.07V240H552.34zM552.34 319.2H558.07V321.6H552.34zM558.07 237.6H563.81V242.4H558.07zM558.07 324H563.81V328.8H558.07zM563.81 331.2H569.54V336H563.81zM569.54 244.8H575.27V249.6H569.54zM724.34 244.8H735.81V249.6H724.34zM569.54 336H575.27V340.8H569.54zM575.27 247.2H581.01V254.4H575.27zM575.27 338.4H581.01V343.2H575.27zM581.01 252H586.74V268.8H581.01zM581.01 343.2H586.74V348H581.01zM753.01 343.2H756V348H753.01zM586.74 261.6H592.47V273.6H586.74zM586.74 348H592.47V350.4H586.74zM592.47 348H598.21V352.8H592.47zM712.88 348H718.61V352.8H712.88zM598.21 271.2H603.94V276H598.21zM598.21 350.4H603.94V355.2H598.21zM695.68 350.4H701.41V355.2H695.68zM603.94 271.2H609.68V273.6H603.94zM603.94 350.4H609.68V352.8H603.94zM609.68 352.8H615.41V357.6H609.68zM655.54 352.8H672.74V357.6H655.54zM615.41 268.8H621.14V271.2H615.41zM615.41 352.8H655.54V360H615.41zM621.14 266.4H626.88V271.2H621.14zM638.34 264H644.08V268.8H638.34zM644.08 264H655.54V266.4H644.08zM655.54 261.6H661.28V266.4H655.54zM661.28 261.6H667.01V264H661.28zM667.01 259.2H678.48V264H667.01zM672.74 350.4H695.68V357.6H672.74zM684.21 256.8H689.94V261.6H684.21zM695.68 254.4H701.41V259.2H695.68zM701.41 348H712.88V355.2H701.41zM712.88 249.6H718.61V254.4H712.88zM718.61 247.2H724.34V252H718.61zM718.61 345.6H730.08V352.8H718.61zM730.08 345.6H735.81V350.4H730.08zM735.81 343.2H753.01V350.4H735.81zM747.28 240H753.01V244.8H747.28z"/>
<path fill="#efe51c" d="M151 187.2H156.73V189.6H151zM151 235.2H156.73V237.6H151zM242.74 235.2H248.47V237.6H242.74zM414.74 235.2H420.47V237.6H414.74zM546.61 235.2H552.34V237.6H546.61zM156.73 189.6H162.47V192H156.73zM156.73 237.6H162.47V240H156.73zM248.47 237.6H254.2V240H248.47zM162.47 192H168.2V194.4H162.47zM173.93 201.6H179.67V204H173.93zM173.93 244.8H179.67V247.2H173.93zM277.14 244.8H282.87V247.2H277.14zM747.28 244.8H753.01V247.2H747.28zM179.67 249.6H185.4V252H179.67zM300.07 249.6H311.54V252H300.07zM386.07 249.6H391.8V252H386.07zM724.34 249.6H735.81V252H724.34zM185.4 213.6H191.13V216H185.4zM517.94 213.6H523.67V216H517.94zM185.4 256.8H191.13V259.2H185.4zM328.74 256.8H340.2V259.2H328.74zM701.41 256.8H707.14V259.2H701.41zM191.13 264H196.87V266.4H191.13zM661.28 264H678.48V266.4H661.28zM196.87 266.4H202.6V268.8H196.87zM644.08 266.4H661.28V268.8H644.08zM202.6 225.6H208.34V228H202.6zM437.67 225.6H443.41V228H437.67zM202.6 271.2H208.34V273.6H202.6zM443.41 271.2H460.61V273.6H443.41zM615.41 271.2H626.88V273.6H615.41zM208.34 273.6H214.07V276H208.34zM420.47 273.6H437.67V276H420.47zM586.74 273.6H592.47V276H586.74zM603.94 273.6H615.41V276H603.94zM214.07 228H219.8V230.4H214.07zM431.94 228H437.67V230.4H431.94zM214.07 276H219.8V278.4H214.07zM409.01 276H420.47V278.4H409.01zM466.34 276H472.07V278.4H466.34zM219.8 230.4H225.54V232.8H219.8zM426.21 230.4H431.94V232.8H426.21zM219.8 276H225.54V280.8H219.8zM225.54 278.4H231.27V280.8H225.54zM403.27 278.4H409.01V280.8H403.27zM231.27 232.8H237V235.2H231.27zM420.47 232.8H426.21V235.2H420.47zM231.27 280.8H237V283.2H231.27zM477.81 280.8H483.54V283.2H477.81zM237 283.2H242.74V285.6H237zM483.54 283.2H489.27V285.6H483.54zM242.74 285.6H248.47V288H242.74zM391.8 285.6H397.54V288H391.8zM248.47 285.6H254.2V290.4H248.47zM254.2 288H259.94V290.4H254.2zM259.94 240H265.67V242.4H259.94zM403.27 240H409.01V242.4H403.27zM552.34 240H558.07V242.4H552.34zM259.94 290.4H265.67V292.8H259.94zM386.07 290.4H391.8V292.8H386.07zM265.67 242.4H277.14V244.8H265.67zM265.67 292.8H271.4V295.2H265.67zM529.41 292.8H535.14V295.2H529.41zM271.4 292.8H277.14V297.6H271.4zM277.14 295.2H282.87V297.6H277.14zM380.34 295.2H386.07V297.6H380.34zM282.87 295.2H288.6V300H282.87zM288.6 247.2H294.34V249.6H288.6zM391.8 247.2H397.54V249.6H391.8zM735.81 247.2H747.28V249.6H735.81zM288.6 297.6H294.34V300H288.6zM374.6 297.6H380.34V300H374.6zM294.34 300H300.07V302.4H294.34zM300.07 300H305.8V304.8H300.07zM305.8 302.4H311.54V307.2H305.8zM311.54 252H317.27V254.4H311.54zM718.61 252H724.34V254.4H718.61zM311.54 304.8H317.27V307.2H311.54zM363.14 304.8H368.87V307.2H363.14zM317.27 307.2H323V309.6H317.27zM357.4 307.2H363.14V309.6H357.4zM323 254.4H328.74V256.8H323zM712.88 254.4H718.61V256.8H712.88zM323 307.2H328.74V312H323zM328.74 309.6H340.2V312H328.74zM351.67 309.6H357.4V312H351.67zM546.61 309.6H552.34V312H546.61zM340.2 309.6H345.94V314.4H340.2zM345.94 259.2H368.87V261.6H345.94zM689.94 259.2H701.41V261.6H689.94zM345.94 312H351.67V314.4H345.94zM368.87 302.4H374.6V304.8H368.87zM443.41 223.2H449.14V225.6H443.41zM449.14 220.8H454.87V223.2H449.14zM454.87 216H460.61V218.4H454.87zM460.61 211.2H466.34V216H460.61zM460.61 271.2H466.34V276H460.61zM466.34 208.8H472.07V211.2H466.34zM472.07 206.4H477.81V208.8H472.07zM472.07 278.4H477.81V283.2H472.07zM477.81 204H483.54V206.4H477.81zM483.54 199.2H495.01V204H483.54zM495.01 201.6H506.47V206.4H495.01zM506.47 204H512.21V208.8H506.47zM512.21 208.8H517.94V213.6H512.21zM523.67 218.4H529.41V220.8H523.67zM529.41 220.8H535.14V225.6H529.41zM535.14 225.6H540.87V230.4H535.14zM540.87 230.4H546.61V235.2H540.87zM552.34 316.8H558.07V319.2H552.34zM558.07 242.4H563.81V247.2H558.07zM753.01 242.4H756V247.2H753.01zM558.07 321.6H563.81V324H558.07zM563.81 247.2H569.54V252H563.81zM563.81 328.8H569.54V331.2H563.81zM569.54 249.6H575.27V256.8H569.54zM569.54 268.8H575.27V273.6H569.54zM569.54 333.6H575.27V336H569.54zM575.27 254.4H581.01V276H575.27zM575.27 336H581.01V338.4H575.27zM581.01 268.8H586.74V276H581.01zM581.01 338.4H586.74V343.2H581.01zM735.81 338.4H753.01V343.2H735.81zM586.74 340.8H592.47V345.6H586.74zM718.61 340.8H735.81V345.6H718.61zM592.47 273.6H598.21V278.4H592.47zM592.47 343.2H598.21V345.6H592.47zM598.21 345.6H609.68V350.4H598.21zM672.74 345.6H701.41V350.4H672.74zM609.68 348H672.74V352.8H609.68zM626.88 268.8H644.08V271.2H626.88zM678.48 261.6H689.94V264H678.48zM701.41 343.2H718.61V348H701.41zM707.14 254.4H712.88V259.2H707.14zM753.01 336H756V343.2H753.01z"/>
<path fill="#eae51a" d="M151 189.6H156.73V192H151zM151 232.8H156.73V235.2H151zM225.54 232.8H231.27V235.2H225.54zM156.73 235.2H162.47V237.6H156.73zM237 235.2H242.74V237.6H237zM540.87 235.2H546.61V237.6H540.87zM162.47 237.6H168.2V240H162.47zM242.74 237.6H248.47V240H242.74zM409.01 237.6H414.74V240H409.01zM546.61 237.6H552.34V240H546.61zM168.2 196.8H173.93V199.2H168.2zM168.2 240H173.93V242.4H168.2zM254.2 240H259.94V242.4H254.2zM179.67 208.8H185.4V211.2H179.67zM472.07 208.8H477.81V211.2H472.07zM506.47 208.8H512.21V211.2H506.47zM185.4 216H191.13V218.4H185.4zM191.13 220.8H196.87V223.2H191.13zM523.67 220.8H529.41V223.2H523.67zM191.13 261.6H196.87V264H191.13zM689.94 261.6H701.41V264H689.94zM196.87 223.2H202.6V225.6H196.87zM196.87 264H202.6V266.4H196.87zM678.48 264H689.94V266.4H678.48zM202.6 268.8H208.34V271.2H202.6zM449.14 268.8H466.34V271.2H449.14zM644.08 268.8H661.28V271.2H644.08zM208.34 228H214.07V230.4H208.34zM437.67 228H443.41V230.4H437.67zM208.34 271.2H214.07V273.6H208.34zM426.21 271.2H443.41V273.6H426.21zM626.88 271.2H644.08V273.6H626.88zM214.07 230.4H219.8V232.8H214.07zM431.94 230.4H437.67V232.8H431.94zM535.14 230.4H540.87V232.8H535.14zM214.07 273.6H219.8V276H214.07zM414.74 273.6H420.47V276H414.74zM466.34 273.6H472.07V276H466.34zM615.41 273.6H626.88V276H615.41zM225.54 276H231.27V278.4H225.54zM575.27 276H592.47V278.4H575.27zM598.21 276H609.68V278.4H598.21zM231.27 278.4H237V280.8H231.27zM237 280.8H242.74V283.2H237zM397.54 280.8H403.27V283.2H397.54zM483.54 280.8H489.27V283.2H483.54zM242.74 283.2H254.2V285.6H242.74zM391.8 283.2H397.54V285.6H391.8zM254.2 285.6H259.94V288H254.2zM259.94 288H265.67V290.4H259.94zM386.07 288H391.8V290.4H386.07zM265.67 290.4H277.14V292.8H265.67zM271.4 244.8H277.14V247.2H271.4zM397.54 244.8H403.27V247.2H397.54zM277.14 292.8H288.6V295.2H277.14zM380.34 292.8H386.07V295.2H380.34zM282.87 247.2H288.6V249.6H282.87zM558.07 247.2H563.81V249.6H558.07zM747.28 247.2H753.01V249.6H747.28zM288.6 295.2H294.34V297.6H288.6zM535.14 295.2H540.87V297.6H535.14zM294.34 249.6H300.07V252H294.34zM735.81 249.6H747.28V252H735.81zM294.34 297.6H305.8V300H294.34zM305.8 252H311.54V254.4H305.8zM724.34 252H735.81V254.4H724.34zM305.8 300H311.54V302.4H305.8zM368.87 300H374.6V302.4H368.87zM311.54 302.4H317.27V304.8H311.54zM363.14 302.4H368.87V304.8H363.14zM540.87 302.4H546.61V304.8H540.87zM317.27 254.4H323V256.8H317.27zM718.61 254.4H724.34V256.8H718.61zM317.27 302.4H323V307.2H317.27zM323 304.8H328.74V307.2H323zM357.4 304.8H363.14V307.2H357.4zM328.74 307.2H345.94V309.6H328.74zM351.67 307.2H357.4V309.6H351.67zM340.2 259.2H345.94V261.6H340.2zM701.41 259.2H707.14V261.6H701.41zM345.94 307.2H351.67V312H345.94zM443.41 225.6H449.14V228H443.41zM529.41 225.6H535.14V228H529.41zM454.87 218.4H460.61V220.8H454.87zM466.34 211.2H472.07V213.6H466.34zM477.81 206.4H483.54V208.8H477.81zM495.01 206.4H506.47V208.8H495.01zM483.54 204H495.01V206.4H483.54zM512.21 213.6H517.94V216H512.21zM517.94 216H523.67V220.8H517.94zM552.34 242.4H558.07V244.8H552.34zM552.34 314.4H558.07V316.8H552.34zM558.07 319.2H563.81V321.6H558.07zM563.81 252H569.54V256.8H563.81zM563.81 264H569.54V276H563.81zM563.81 326.4H569.54V328.8H563.81zM569.54 256.8H575.27V268.8H569.54zM569.54 273.6H575.27V278.4H569.54zM569.54 331.2H575.27V333.6H569.54zM575.27 333.6H581.01V336H575.27zM753.01 333.6H756V336H753.01zM581.01 336H586.74V338.4H581.01zM735.81 336H741.54V338.4H735.81zM586.74 338.4H592.47V340.8H586.74zM718.61 338.4H724.34V340.8H718.61zM592.47 340.8H598.21V343.2H592.47zM701.41 340.8H707.14V343.2H701.41zM598.21 340.8H603.94V345.6H598.21zM684.21 340.8H701.41V345.6H684.21zM603.94 343.2H609.68V345.6H603.94zM672.74 343.2H684.21V345.6H672.74zM609.68 343.2H615.41V348H609.68zM632.61 343.2H672.74V348H632.61zM615.41 345.6H632.61V348H615.41zM661.28 266.4H678.48V268.8H661.28zM707.14 338.4H718.61V343.2H707.14zM712.88 256.8H718.61V259.2H712.88zM724.34 336H735.81V340.8H724.34zM741.54 333.6H753.01V338.4H741.54z"/>
<path fill="#e5e419" d="M156.73 192H162.47V194.4H156.73zM162.47 194.4H168.2V196.8H162.47zM162.47 235.2H168.2V237.6H162.47zM231.27 235.2H237V237.6H231.27zM420.47 235.2H426.21V237.6H420.47zM173.93 204H179.67V206.4H173.93zM173.93 242.4H179.67V244.8H173.93zM259.94 242.4H265.67V244.8H259.94zM403.27 242.4H409.01V244.8H403.27zM179.67 247.2H185.4V249.6H179.67zM277.14 247.2H282.87V249.6H277.14zM753.01 247.2H756V249.6H753.01zM185.4 254.4H191.13V256.8H185.4zM311.54 254.4H317.27V256.8H311.54zM380.34 254.4H386.07V256.8H380.34zM724.34 254.4H730.08V256.8H724.34zM191.13 259.2H196.87V261.6H191.13zM334.47 259.2H340.2V261.6H334.47zM368.87 259.2H374.6V261.6H368.87zM707.14 259.2H718.61V261.6H707.14zM202.6 266.4H208.34V268.8H202.6zM460.61 266.4H466.34V268.8H460.61zM678.48 266.4H689.94V268.8H678.48zM208.34 268.8H214.07V271.2H208.34zM437.67 268.8H449.14V271.2H437.67zM552.34 268.8H558.07V271.2H552.34zM661.28 268.8H672.74V271.2H661.28zM214.07 271.2H219.8V273.6H214.07zM420.47 271.2H426.21V273.6H420.47zM644.08 271.2H655.54V273.6H644.08zM219.8 232.8H225.54V235.2H219.8zM426.21 232.8H431.94V235.2H426.21zM535.14 232.8H540.87V235.2H535.14zM219.8 273.6H225.54V276H219.8zM409.01 273.6H414.74V276H409.01zM626.88 273.6H638.34V276H626.88zM231.27 276H237V278.4H231.27zM403.27 276H409.01V278.4H403.27zM472.07 276H477.81V278.4H472.07zM563.81 276H569.54V278.4H563.81zM609.68 276H621.14V278.4H609.68zM237 278.4H242.74V280.8H237zM397.54 278.4H403.27V280.8H397.54zM477.81 278.4H483.54V280.8H477.81zM569.54 278.4H603.94V280.8H569.54zM242.74 280.8H248.47V283.2H242.74zM248.47 240H254.2V242.4H248.47zM254.2 283.2H259.94V285.6H254.2zM259.94 285.6H265.67V288H259.94zM265.67 244.8H271.4V247.2H265.67zM265.67 288H271.4V290.4H265.67zM277.14 290.4H282.87V292.8H277.14zM380.34 290.4H386.07V292.8H380.34zM529.41 290.4H535.14V292.8H529.41zM288.6 249.6H294.34V252H288.6zM747.28 249.6H753.01V252H747.28zM288.6 292.8H294.34V295.2H288.6zM294.34 295.2H305.8V297.6H294.34zM374.6 295.2H380.34V297.6H374.6zM300.07 252H305.8V254.4H300.07zM386.07 252H391.8V254.4H386.07zM735.81 252H741.54V254.4H735.81zM305.8 297.6H311.54V300H305.8zM368.87 297.6H374.6V300H368.87zM311.54 300H323V302.4H311.54zM540.87 300H546.61V302.4H540.87zM323 256.8H328.74V259.2H323zM374.6 256.8H380.34V259.2H374.6zM718.61 256.8H724.34V259.2H718.61zM323 302.4H328.74V304.8H323zM357.4 302.4H363.14V304.8H357.4zM328.74 304.8H345.94V307.2H328.74zM351.67 304.8H357.4V307.2H351.67zM345.94 261.6H363.14V264H345.94zM701.41 261.6H707.14V264H701.41zM449.14 223.2H454.87V225.6H449.14zM523.67 223.2H529.41V225.6H523.67zM454.87 220.8H460.61V223.2H454.87zM517.94 220.8H523.67V223.2H517.94zM460.61 216H466.34V218.4H460.61zM512.21 216H517.94V218.4H512.21zM466.34 213.6H472.07V216H466.34zM466.34 268.8H472.07V273.6H466.34zM472.07 211.2H477.81V213.6H472.07zM506.47 211.2H512.21V213.6H506.47zM477.81 208.8H483.54V211.2H477.81zM495.01 208.8H506.47V211.2H495.01zM483.54 206.4H495.01V208.8H483.54zM529.41 228H535.14V230.4H529.41zM540.87 237.6H546.61V240H540.87zM546.61 240H552.34V244.8H546.61zM546.61 307.2H552.34V309.6H546.61zM552.34 244.8H558.07V249.6H552.34zM552.34 312H558.07V314.4H552.34zM558.07 249.6H563.81V256.8H558.07zM558.07 261.6H563.81V276H558.07zM563.81 256.8H569.54V264H563.81zM563.81 324H569.54V326.4H563.81zM569.54 328.8H575.27V331.2H569.54zM575.27 331.2H581.01V333.6H575.27zM741.54 331.2H747.28V333.6H741.54zM581.01 333.6H586.74V336H581.01zM724.34 333.6H730.08V336H724.34zM586.74 336H592.47V338.4H586.74zM707.14 336H712.88V338.4H707.14zM592.47 338.4H603.94V340.8H592.47zM684.21 338.4H695.68V340.8H684.21zM603.94 338.4H609.68V343.2H603.94zM667.01 338.4H684.21V343.2H667.01zM609.68 340.8H615.41V343.2H609.68zM632.61 340.8H667.01V343.2H632.61zM615.41 340.8H632.61V345.6H615.41zM689.94 264H701.41V266.4H689.94zM695.68 336H707.14V340.8H695.68zM712.88 333.6H724.34V338.4H712.88zM730.08 331.2H741.54V336H730.08zM747.28 328.8H756V333.6H747.28z"/>
<path fill="#dfe318" d="M151 230.4H156.73V232.8H151zM208.34 230.4H214.07V232.8H208.34zM437.67 230.4H443.41V232.8H437.67zM529.41 230.4H535.14V232.8H529.41zM156.73 232.8H162.47V235.2H156.73zM168.2 199.2H173.93V201.6H168.2zM168.2 237.6H173.93V240H168.2zM237 237.6H242.74V240H237zM414.74 237.6H420.47V240H414.74zM179.67 211.2H185.4V213.6H179.67zM477.81 211.2H483.54V213.6H477.81zM495.01 211.2H506.47V213.6H495.01zM185.4 252H191.13V254.4H185.4zM741.54 252H753.01V254.4H741.54zM196.87 225.6H202.6V228H196.87zM449.14 225.6H454.87V228H449.14zM196.87 261.6H202.6V264H196.87zM340.2 261.6H345.94V264H340.2zM363.14 261.6H368.87V264H363.14zM707.14 261.6H712.88V264H707.14zM202.6 228H208.34V230.4H202.6zM443.41 228H449.14V230.4H443.41zM214.07 268.8H219.8V271.2H214.07zM426.21 268.8H437.67V271.2H426.21zM672.74 268.8H684.21V271.2H672.74zM219.8 271.2H225.54V273.6H219.8zM414.74 271.2H420.47V273.6H414.74zM655.54 271.2H667.01V273.6H655.54zM225.54 235.2H231.27V237.6H225.54zM535.14 235.2H540.87V237.6H535.14zM225.54 273.6H231.27V276H225.54zM472.07 273.6H477.81V276H472.07zM638.34 273.6H649.81V276H638.34zM237 276H242.74V278.4H237zM477.81 276H483.54V278.4H477.81zM558.07 276H563.81V278.4H558.07zM621.14 276H632.61V278.4H621.14zM242.74 278.4H248.47V280.8H242.74zM483.54 278.4H489.27V280.8H483.54zM563.81 278.4H569.54V280.8H563.81zM603.94 278.4H615.41V280.8H603.94zM248.47 280.8H254.2V283.2H248.47zM391.8 280.8H397.54V283.2H391.8zM489.27 280.8H495.01V283.2H489.27zM569.54 280.8H598.21V283.2H569.54zM254.2 242.4H259.94V244.8H254.2zM259.94 283.2H265.67V285.6H259.94zM265.67 285.6H271.4V288H265.67zM386.07 285.6H391.8V288H386.07zM523.67 285.6H529.41V288H523.67zM271.4 288H282.87V290.4H271.4zM282.87 249.6H288.6V252H282.87zM391.8 249.6H397.54V252H391.8zM753.01 249.6H756V252H753.01zM282.87 290.4H294.34V292.8H282.87zM294.34 292.8H300.07V295.2H294.34zM374.6 292.8H380.34V295.2H374.6zM535.14 292.8H540.87V295.2H535.14zM305.8 295.2H311.54V297.6H305.8zM311.54 297.6H317.27V300H311.54zM317.27 256.8H323V259.2H317.27zM724.34 256.8H730.08V259.2H724.34zM323 300H328.74V302.4H323zM363.14 300H368.87V302.4H363.14zM328.74 259.2H334.47V261.6H328.74zM718.61 259.2H724.34V261.6H718.61zM328.74 302.4H340.2V304.8H328.74zM351.67 302.4H357.4V304.8H351.67zM345.94 304.8H351.67V307.2H345.94zM409.01 240H414.74V242.4H409.01zM540.87 240H546.61V242.4H540.87zM443.41 266.4H460.61V268.8H443.41zM466.34 266.4H472.07V268.8H466.34zM689.94 266.4H695.68V268.8H689.94zM460.61 218.4H466.34V220.8H460.61zM512.21 218.4H517.94V220.8H512.21zM466.34 216H472.07V218.4H466.34zM472.07 213.6H477.81V216H472.07zM506.47 213.6H512.21V216H506.47zM483.54 208.8H495.01V211.2H483.54zM517.94 223.2H523.67V225.6H517.94zM523.67 225.6H529.41V230.4H523.67zM546.61 244.8H552.34V247.2H546.61zM552.34 249.6H558.07V254.4H552.34zM552.34 259.2H558.07V268.8H552.34zM552.34 271.2H558.07V276H552.34zM558.07 256.8H563.81V261.6H558.07zM558.07 316.8H563.81V319.2H558.07zM563.81 321.6H569.54V324H563.81zM569.54 326.4H575.27V328.8H569.54zM747.28 326.4H756V328.8H747.28zM575.27 328.8H581.01V331.2H575.27zM730.08 328.8H741.54V331.2H730.08zM581.01 331.2H586.74V333.6H581.01zM712.88 331.2H724.34V333.6H712.88zM586.74 333.6H592.47V336H586.74zM695.68 333.6H707.14V336H695.68zM592.47 336H609.68V338.4H592.47zM667.01 336H684.21V338.4H667.01zM609.68 338.4H655.54V340.8H609.68zM655.54 336H667.01V340.8H655.54zM684.21 333.6H695.68V338.4H684.21zM701.41 264H707.14V266.4H701.41zM707.14 331.2H712.88V336H707.14zM724.34 328.8H730.08V333.6H724.34zM730.08 254.4H741.54V256.8H730.08zM741.54 326.4H747.28V331.2H741.54z"/>
<path fill="#dae319" d="M151 192H156.73V194.4H151zM156.73 194.4H162.47V196.8H156.73zM173.93 240H179.67V242.4H173.93zM242.74 240H248.47V242.4H242.74zM179.67 244.8H185.4V247.2H179.67zM259.94 244.8H265.67V247.2H259.94zM185.4 218.4H191.13V220.8H185.4zM191.13 223.2H196.87V225.6H191.13zM454.87 223.2H460.61V225.6H454.87zM191.13 256.8H196.87V259.2H191.13zM730.08 256.8H735.81V259.2H730.08zM202.6 264H208.34V266.4H202.6zM454.87 264H466.34V266.4H454.87zM707.14 264H712.88V266.4H707.14zM208.34 266.4H214.07V268.8H208.34zM437.67 266.4H443.41V268.8H437.67zM695.68 266.4H701.41V268.8H695.68zM214.07 232.8H219.8V235.2H214.07zM431.94 232.8H437.67V235.2H431.94zM225.54 271.2H231.27V273.6H225.54zM409.01 271.2H414.74V273.6H409.01zM472.07 271.2H477.81V273.6H472.07zM667.01 271.2H678.48V273.6H667.01zM231.27 237.6H237V240H231.27zM535.14 237.6H540.87V240H535.14zM231.27 273.6H237V276H231.27zM649.81 273.6H661.28V276H649.81zM242.74 276H248.47V278.4H242.74zM632.61 276H644.08V278.4H632.61zM248.47 278.4H254.2V280.8H248.47zM615.41 278.4H621.14V280.8H615.41zM254.2 280.8H259.94V283.2H254.2zM598.21 280.8H609.68V283.2H598.21zM271.4 247.2H277.14V249.6H271.4zM397.54 247.2H403.27V249.6H397.54zM271.4 285.6H277.14V288H271.4zM282.87 288H288.6V290.4H282.87zM380.34 288H386.07V290.4H380.34zM294.34 252H300.07V254.4H294.34zM753.01 252H756V254.4H753.01zM294.34 290.4H300.07V292.8H294.34zM300.07 292.8H305.8V295.2H300.07zM305.8 254.4H311.54V256.8H305.8zM741.54 254.4H747.28V256.8H741.54zM311.54 295.2H317.27V297.6H311.54zM368.87 295.2H374.6V297.6H368.87zM317.27 297.6H328.74V300H317.27zM363.14 297.6H368.87V300H363.14zM323 259.2H328.74V261.6H323zM328.74 300H340.2V302.4H328.74zM357.4 300H363.14V302.4H357.4zM340.2 302.4H351.67V304.8H340.2zM420.47 268.8H426.21V271.2H420.47zM684.21 268.8H695.68V271.2H684.21zM426.21 235.2H431.94V237.6H426.21zM460.61 220.8H466.34V223.2H460.61zM512.21 220.8H517.94V223.2H512.21zM472.07 216H477.81V218.4H472.07zM506.47 216H512.21V218.4H506.47zM477.81 213.6H483.54V216H477.81zM495.01 213.6H506.47V216H495.01zM483.54 211.2H495.01V213.6H483.54zM517.94 225.6H523.67V228H517.94zM517.94 283.2H523.67V285.6H517.94zM523.67 230.4H529.41V232.8H523.67zM529.41 232.8H535.14V237.6H529.41zM540.87 242.4H546.61V244.8H540.87zM546.61 247.2H552.34V252H546.61zM546.61 259.2H552.34V271.2H546.61zM546.61 304.8H552.34V307.2H546.61zM552.34 254.4H558.07V259.2H552.34zM552.34 309.6H558.07V312H552.34zM558.07 314.4H563.81V316.8H558.07zM563.81 319.2H569.54V321.6H563.81zM569.54 324H575.27V326.4H569.54zM741.54 324H747.28V326.4H741.54zM575.27 326.4H581.01V328.8H575.27zM724.34 326.4H730.08V328.8H724.34zM581.01 328.8H586.74V331.2H581.01zM707.14 328.8H712.88V331.2H707.14zM586.74 331.2H592.47V333.6H586.74zM684.21 331.2H701.41V333.6H684.21zM592.47 333.6H609.68V336H592.47zM655.54 333.6H678.48V336H655.54zM609.68 333.6H615.41V338.4H609.68zM638.34 333.6H655.54V338.4H638.34zM615.41 336H638.34V338.4H615.41zM678.48 331.2H684.21V336H678.48zM701.41 328.8H707.14V333.6H701.41zM712.88 261.6H718.61V264H712.88zM712.88 326.4H724.34V331.2H712.88zM730.08 324H741.54V328.8H730.08zM747.28 321.6H756V326.4H747.28z"/>
<path fill="#d2e21b" d="M156.73 230.4H162.47V232.8H156.73zM202.6 230.4H208.34V232.8H202.6zM443.41 230.4H449.14V232.8H443.41zM162.47 196.8H168.2V199.2H162.47zM162.47 232.8H168.2V235.2H162.47zM523.67 232.8H529.41V235.2H523.67zM168.2 235.2H173.93V237.6H168.2zM219.8 235.2H225.54V237.6H219.8zM173.93 206.4H179.67V208.8H173.93zM196.87 259.2H202.6V261.6H196.87zM724.34 259.2H735.81V261.6H724.34zM214.07 266.4H219.8V268.8H214.07zM431.94 266.4H437.67V268.8H431.94zM701.41 266.4H707.14V268.8H701.41zM219.8 268.8H225.54V271.2H219.8zM472.07 268.8H477.81V271.2H472.07zM695.68 268.8H701.41V271.2H695.68zM237 273.6H242.74V276H237zM403.27 273.6H409.01V276H403.27zM477.81 273.6H483.54V276H477.81zM661.28 273.6H672.74V276H661.28zM248.47 242.4H254.2V244.8H248.47zM254.2 278.4H259.94V280.8H254.2zM489.27 278.4H495.01V280.8H489.27zM558.07 278.4H563.81V280.8H558.07zM621.14 278.4H632.61V280.8H621.14zM259.94 280.8H265.67V283.2H259.94zM563.81 280.8H569.54V283.2H563.81zM609.68 280.8H615.41V283.2H609.68zM265.67 247.2H271.4V249.6H265.67zM265.67 283.2H277.14V285.6H265.67zM386.07 283.2H391.8V285.6H386.07zM569.54 283.2H598.21V285.6H569.54zM277.14 249.6H282.87V252H277.14zM277.14 285.6H288.6V288H277.14zM288.6 252H294.34V254.4H288.6zM288.6 288H294.34V290.4H288.6zM529.41 288H535.14V290.4H529.41zM300.07 254.4H305.8V256.8H300.07zM747.28 254.4H753.01V256.8H747.28zM300.07 290.4H305.8V292.8H300.07zM374.6 290.4H380.34V292.8H374.6zM305.8 292.8H317.27V295.2H305.8zM311.54 256.8H317.27V259.2H311.54zM735.81 256.8H741.54V259.2H735.81zM317.27 295.2H323V297.6H317.27zM328.74 297.6H334.47V300H328.74zM357.4 297.6H363.14V300H357.4zM540.87 297.6H546.61V300H540.87zM334.47 261.6H340.2V264H334.47zM368.87 261.6H374.6V264H368.87zM460.61 261.6H466.34V264H460.61zM718.61 261.6H724.34V264H718.61zM340.2 300H357.4V302.4H340.2zM397.54 276H403.27V278.4H397.54zM483.54 276H489.27V278.4H483.54zM552.34 276H558.07V278.4H552.34zM644.08 276H655.54V278.4H644.08zM420.47 237.6H426.21V240H420.47zM529.41 237.6H535.14V240H529.41zM443.41 264H454.87V266.4H443.41zM466.34 264H472.07V266.4H466.34zM712.88 264H718.61V266.4H712.88zM466.34 218.4H472.07V220.8H466.34zM506.47 218.4H512.21V220.8H506.47zM477.81 216H483.54V218.4H477.81zM495.01 216H506.47V218.4H495.01zM483.54 213.6H495.01V216H483.54zM512.21 223.2H517.94V225.6H512.21zM517.94 228H523.67V230.4H517.94zM535.14 240H540.87V244.8H535.14zM540.87 244.8H546.61V252H540.87zM540.87 254.4H546.61V266.4H540.87zM546.61 252H552.34V259.2H546.61zM546.61 271.2H552.34V273.6H546.61zM678.48 271.2H689.94V273.6H678.48zM569.54 321.6H575.27V324H569.54zM730.08 321.6H741.54V324H730.08zM575.27 324H581.01V326.4H575.27zM712.88 324H724.34V326.4H712.88zM581.01 326.4H586.74V328.8H581.01zM701.41 326.4H712.88V328.8H701.41zM586.74 328.8H592.47V331.2H586.74zM678.48 328.8H695.68V331.2H678.48zM592.47 331.2H615.41V333.6H592.47zM638.34 331.2H667.01V333.6H638.34zM615.41 333.6H626.88V336H615.41zM626.88 331.2H638.34V336H626.88zM667.01 328.8H678.48V333.6H667.01zM695.68 326.4H701.41V331.2H695.68zM724.34 321.6H730.08V326.4H724.34zM741.54 319.2H747.28V324H741.54zM747.28 319.2H756V321.6H747.28z"/>
<path fill="#cde11d" d="M151 228H156.73V230.4H151zM196.87 228H202.6V230.4H196.87zM449.14 228H454.87V230.4H449.14zM168.2 201.6H173.93V204H168.2zM179.67 242.4H185.4V244.8H179.67zM185.4 249.6H191.13V252H185.4zM202.6 261.6H208.34V264H202.6zM328.74 261.6H334.47V264H328.74zM454.87 261.6H460.61V264H454.87zM466.34 261.6H472.07V264H466.34zM724.34 261.6H730.08V264H724.34zM208.34 232.8H214.07V235.2H208.34zM437.67 232.8H443.41V235.2H437.67zM208.34 264H214.07V266.4H208.34zM345.94 264H357.4V266.4H345.94zM437.67 264H443.41V266.4H437.67zM718.61 264H724.34V266.4H718.61zM225.54 237.6H231.27V240H225.54zM225.54 268.8H231.27V271.2H225.54zM414.74 268.8H420.47V271.2H414.74zM701.41 268.8H707.14V271.2H701.41zM231.27 271.2H237V273.6H231.27zM477.81 271.2H483.54V273.6H477.81zM689.94 271.2H695.68V273.6H689.94zM237 240H242.74V242.4H237zM414.74 240H420.47V242.4H414.74zM242.74 273.6H248.47V276H242.74zM672.74 273.6H684.21V276H672.74zM248.47 276H254.2V278.4H248.47zM655.54 276H667.01V278.4H655.54zM254.2 244.8H259.94V247.2H254.2zM403.27 244.8H409.01V247.2H403.27zM265.67 280.8H271.4V283.2H265.67zM615.41 280.8H626.88V283.2H615.41zM277.14 283.2H282.87V285.6H277.14zM598.21 283.2H603.94V285.6H598.21zM294.34 288H300.07V290.4H294.34zM305.8 290.4H311.54V292.8H305.8zM317.27 259.2H323V261.6H317.27zM374.6 259.2H380.34V261.6H374.6zM735.81 259.2H741.54V261.6H735.81zM317.27 292.8H323V295.2H317.27zM368.87 292.8H374.6V295.2H368.87zM323 295.2H328.74V297.6H323zM363.14 295.2H368.87V297.6H363.14zM334.47 297.6H340.2V300H334.47zM351.67 297.6H357.4V300H351.67zM380.34 256.8H386.07V259.2H380.34zM741.54 256.8H753.01V259.2H741.54zM391.8 278.4H397.54V280.8H391.8zM632.61 278.4H649.81V280.8H632.61zM426.21 266.4H431.94V268.8H426.21zM472.07 266.4H477.81V268.8H472.07zM707.14 266.4H712.88V268.8H707.14zM454.87 225.6H460.61V228H454.87zM512.21 225.6H517.94V228H512.21zM460.61 223.2H466.34V225.6H460.61zM466.34 220.8H472.07V223.2H466.34zM506.47 220.8H512.21V223.2H506.47zM472.07 218.4H477.81V220.8H472.07zM500.74 218.4H506.47V220.8H500.74zM483.54 216H495.01V218.4H483.54zM517.94 230.4H523.67V232.8H517.94zM523.67 235.2H529.41V237.6H523.67zM529.41 240H535.14V244.8H529.41zM535.14 244.8H540.87V259.2H535.14zM540.87 252H546.61V254.4H540.87zM558.07 312H563.81V314.4H558.07zM563.81 316.8H569.54V319.2H563.81zM741.54 316.8H747.28V319.2H741.54zM581.01 324H586.74V326.4H581.01zM695.68 324H707.14V326.4H695.68zM586.74 326.4H592.47V328.8H586.74zM667.01 326.4H684.21V328.8H667.01zM592.47 328.8H615.41V331.2H592.47zM626.88 328.8H661.28V331.2H626.88zM615.41 328.8H626.88V333.6H615.41zM661.28 326.4H667.01V331.2H661.28zM684.21 324H695.68V328.8H684.21zM707.14 321.6H712.88V326.4H707.14zM712.88 321.6H718.61V324H712.88zM718.61 319.2H724.34V324H718.61zM724.34 319.2H730.08V321.6H724.34zM730.08 316.8H741.54V321.6H730.08zM747.28 314.4H756V319.2H747.28zM753.01 254.4H756V256.8H753.01z"/>
<path fill="#c8e020" d="M173.93 237.6H179.67V240H173.93zM179.67 213.6H185.4V216H179.67zM191.13 225.6H196.87V228H191.13zM191.13 254.4H196.87V256.8H191.13zM294.34 254.4H300.07V256.8H294.34zM386.07 254.4H391.8V256.8H386.07zM214.07 235.2H219.8V237.6H214.07zM431.94 235.2H437.67V237.6H431.94zM219.8 266.4H225.54V268.8H219.8zM420.47 266.4H426.21V268.8H420.47zM540.87 266.4H546.61V268.8H540.87zM712.88 266.4H718.61V268.8H712.88zM237 271.2H242.74V273.6H237zM695.68 271.2H707.14V273.6H695.68zM242.74 242.4H248.47V244.8H242.74zM409.01 242.4H414.74V244.8H409.01zM254.2 276H259.94V278.4H254.2zM667.01 276H678.48V278.4H667.01zM259.94 278.4H265.67V280.8H259.94zM649.81 278.4H661.28V280.8H649.81zM271.4 249.6H277.14V252H271.4zM271.4 280.8H277.14V283.2H271.4zM626.88 280.8H638.34V283.2H626.88zM282.87 252H288.6V254.4H282.87zM391.8 252H397.54V254.4H391.8zM282.87 283.2H288.6V285.6H282.87zM523.67 283.2H529.41V285.6H523.67zM563.81 283.2H569.54V285.6H563.81zM603.94 283.2H615.41V285.6H603.94zM288.6 285.6H294.34V288H288.6zM380.34 285.6H386.07V288H380.34zM586.74 285.6H598.21V288H586.74zM300.07 288H305.8V290.4H300.07zM305.8 256.8H311.54V259.2H305.8zM753.01 256.8H756V259.2H753.01zM311.54 290.4H317.27V292.8H311.54zM535.14 290.4H540.87V292.8H535.14zM323 292.8H328.74V295.2H323zM328.74 295.2H340.2V297.6H328.74zM357.4 295.2H363.14V297.6H357.4zM340.2 264H345.94V266.4H340.2zM357.4 264H368.87V266.4H357.4zM431.94 264H437.67V266.4H431.94zM724.34 264H730.08V266.4H724.34zM340.2 297.6H351.67V300H340.2zM409.01 268.8H414.74V271.2H409.01zM477.81 268.8H483.54V271.2H477.81zM707.14 268.8H712.88V271.2H707.14zM449.14 261.6H454.87V264H449.14zM730.08 261.6H735.81V264H730.08zM460.61 259.2H472.07V261.6H460.61zM535.14 259.2H540.87V261.6H535.14zM741.54 259.2H747.28V261.6H741.54zM472.07 261.6H477.81V266.4H472.07zM477.81 218.4H483.54V220.8H477.81zM489.27 218.4H500.74V220.8H489.27zM483.54 273.6H489.27V276H483.54zM684.21 273.6H695.68V276H684.21zM500.74 220.8H506.47V223.2H500.74zM506.47 223.2H512.21V225.6H506.47zM512.21 228H517.94V230.4H512.21zM517.94 232.8H523.67V235.2H517.94zM523.67 237.6H529.41V242.4H523.67zM529.41 244.8H535.14V256.8H529.41zM546.61 302.4H552.34V304.8H546.61zM552.34 307.2H558.07V309.6H552.34zM569.54 319.2H575.27V321.6H569.54zM575.27 321.6H581.01V324H575.27zM684.21 321.6H695.68V324H684.21zM592.47 326.4H655.54V328.8H592.47zM655.54 324H661.28V328.8H655.54zM661.28 324H678.48V326.4H661.28zM678.48 321.6H684.21V326.4H678.48zM695.68 319.2H707.14V324H695.68zM707.14 316.8H718.61V321.6H707.14zM718.61 314.4H730.08V319.2H718.61zM730.08 314.4H735.81V316.8H730.08zM735.81 312H747.28V316.8H735.81zM747.28 312H753.01V314.4H747.28zM753.01 309.6H756V314.4H753.01z"/>
<path fill="#c2df23" d="M151 194.4H156.73V196.8H151zM156.73 196.8H162.47V199.2H156.73zM162.47 230.4H168.2V232.8H162.47zM449.14 230.4H454.87V232.8H449.14zM512.21 230.4H517.94V232.8H512.21zM185.4 220.8H191.13V223.2H185.4zM472.07 220.8H477.81V223.2H472.07zM495.01 220.8H500.74V223.2H495.01zM196.87 256.8H202.6V259.2H196.87zM529.41 256.8H535.14V259.2H529.41zM208.34 261.6H214.07V264H208.34zM323 261.6H328.74V264H323zM443.41 261.6H449.14V264H443.41zM535.14 261.6H540.87V264H535.14zM735.81 261.6H747.28V264H735.81zM214.07 264H219.8V266.4H214.07zM730.08 264H735.81V266.4H730.08zM219.8 237.6H225.54V240H219.8zM426.21 237.6H431.94V240H426.21zM231.27 240H237V242.4H231.27zM231.27 268.8H237V271.2H231.27zM712.88 268.8H718.61V271.2H712.88zM248.47 273.6H254.2V276H248.47zM546.61 273.6H552.34V276H546.61zM695.68 273.6H701.41V276H695.68zM259.94 247.2H265.67V249.6H259.94zM265.67 278.4H271.4V280.8H265.67zM495.01 278.4H500.74V280.8H495.01zM552.34 278.4H558.07V280.8H552.34zM661.28 278.4H672.74V280.8H661.28zM277.14 280.8H282.87V283.2H277.14zM386.07 280.8H391.8V283.2H386.07zM517.94 280.8H523.67V283.2H517.94zM558.07 280.8H563.81V283.2H558.07zM638.34 280.8H655.54V283.2H638.34zM294.34 285.6H300.07V288H294.34zM569.54 285.6H586.74V288H569.54zM598.21 285.6H603.94V288H598.21zM305.8 288H311.54V290.4H305.8zM374.6 288H380.34V290.4H374.6zM317.27 290.4H323V292.8H317.27zM368.87 290.4H374.6V292.8H368.87zM328.74 292.8H334.47V295.2H328.74zM363.14 292.8H368.87V295.2H363.14zM340.2 295.2H345.94V297.6H340.2zM351.67 295.2H357.4V297.6H351.67zM403.27 271.2H409.01V273.6H403.27zM707.14 271.2H712.88V273.6H707.14zM443.41 232.8H449.14V235.2H443.41zM454.87 228H460.61V230.4H454.87zM454.87 259.2H460.61V261.6H454.87zM472.07 259.2H477.81V261.6H472.07zM747.28 259.2H753.01V261.6H747.28zM460.61 225.6H466.34V228H460.61zM506.47 225.6H512.21V228H506.47zM466.34 223.2H472.07V225.6H466.34zM500.74 223.2H506.47V225.6H500.74zM477.81 266.4H483.54V268.8H477.81zM718.61 266.4H724.34V268.8H718.61zM483.54 218.4H489.27V220.8H483.54zM517.94 235.2H523.67V237.6H517.94zM523.67 242.4H529.41V254.4H523.67zM563.81 314.4H569.54V316.8H563.81zM707.14 314.4H712.88V316.8H707.14zM575.27 319.2H581.01V321.6H575.27zM678.48 319.2H689.94V321.6H678.48zM581.01 321.6H586.74V324H581.01zM655.54 321.6H672.74V324H655.54zM586.74 324H649.81V326.4H586.74zM615.41 283.2H626.88V285.6H615.41zM649.81 321.6H655.54V326.4H649.81zM672.74 319.2H678.48V324H672.74zM678.48 276H689.94V278.4H678.48zM689.94 316.8H695.68V321.6H689.94zM695.68 316.8H701.41V319.2H695.68zM701.41 314.4H707.14V319.2H701.41zM712.88 312H718.61V316.8H712.88zM718.61 312H724.34V314.4H718.61zM724.34 309.6H735.81V314.4H724.34zM735.81 307.2H747.28V312H735.81zM747.28 304.8H753.01V312H747.28zM753.01 304.8H756V309.6H753.01z"/>
<path fill="#bddf26" d="M151 225.6H156.73V228H151zM156.73 228H162.47V230.4H156.73zM506.47 228H512.21V230.4H506.47zM162.47 199.2H168.2V201.6H162.47zM168.2 232.8H173.93V235.2H168.2zM202.6 232.8H208.34V235.2H202.6zM512.21 232.8H517.94V235.2H512.21zM173.93 208.8H179.67V211.2H173.93zM185.4 247.2H191.13V249.6H185.4zM202.6 259.2H208.34V261.6H202.6zM311.54 259.2H317.27V261.6H311.54zM449.14 259.2H454.87V261.6H449.14zM753.01 259.2H756V261.6H753.01zM225.54 266.4H231.27V268.8H225.54zM414.74 266.4H420.47V268.8H414.74zM724.34 266.4H735.81V268.8H724.34zM237 242.4H242.74V244.8H237zM242.74 271.2H248.47V273.6H242.74zM483.54 271.2H489.27V273.6H483.54zM712.88 271.2H718.61V273.6H712.88zM248.47 244.8H254.2V247.2H248.47zM254.2 273.6H259.94V276H254.2zM397.54 273.6H403.27V276H397.54zM701.41 273.6H707.14V276H701.41zM259.94 276H265.67V278.4H259.94zM489.27 276H495.01V278.4H489.27zM689.94 276H701.41V278.4H689.94zM265.67 249.6H271.4V252H265.67zM397.54 249.6H403.27V252H397.54zM271.4 278.4H277.14V280.8H271.4zM500.74 278.4H506.47V280.8H500.74zM672.74 278.4H684.21V280.8H672.74zM277.14 252H282.87V254.4H277.14zM288.6 254.4H294.34V256.8H288.6zM288.6 283.2H294.34V285.6H288.6zM626.88 283.2H638.34V285.6H626.88zM300.07 256.8H305.8V259.2H300.07zM460.61 256.8H477.81V259.2H460.61zM300.07 285.6H305.8V288H300.07zM529.41 285.6H535.14V288H529.41zM603.94 285.6H615.41V288H603.94zM311.54 288H317.27V290.4H311.54zM323 290.4H328.74V292.8H323zM334.47 264H340.2V266.4H334.47zM426.21 264H431.94V266.4H426.21zM735.81 264H741.54V266.4H735.81zM345.94 295.2H351.67V297.6H345.94zM540.87 295.2H546.61V297.6H540.87zM420.47 240H426.21V242.4H420.47zM437.67 261.6H443.41V264H437.67zM747.28 261.6H753.01V264H747.28zM472.07 223.2H477.81V225.6H472.07zM495.01 223.2H500.74V225.6H495.01zM477.81 220.8H495.01V223.2H477.81zM477.81 259.2H483.54V266.4H477.81zM517.94 237.6H523.67V252H517.94zM558.07 309.6H563.81V312H558.07zM569.54 316.8H575.27V319.2H569.54zM672.74 316.8H678.48V319.2H672.74zM586.74 321.6H592.47V324H586.74zM609.68 321.6H644.08V324H609.68zM644.08 319.2H649.81V324H644.08zM649.81 319.2H667.01V321.6H649.81zM655.54 280.8H667.01V283.2H655.54zM667.01 316.8H672.74V321.6H667.01zM678.48 314.4H689.94V319.2H678.48zM689.94 312H701.41V316.8H689.94zM701.41 309.6H712.88V314.4H701.41zM712.88 307.2H718.61V312H712.88zM718.61 268.8H724.34V271.2H718.61zM718.61 304.8H724.34V312H718.61zM724.34 304.8H730.08V309.6H724.34zM730.08 302.4H735.81V309.6H730.08zM735.81 302.4H741.54V307.2H735.81zM741.54 300H747.28V307.2H741.54zM747.28 300H753.01V304.8H747.28zM753.01 297.6H756V304.8H753.01z"/>
<path fill="#b8de29" d="M168.2 204H173.93V206.4H168.2zM173.93 235.2H179.67V237.6H173.93zM208.34 235.2H214.07V237.6H208.34zM437.67 235.2H443.41V237.6H437.67zM179.67 240H185.4V242.4H179.67zM225.54 240H231.27V242.4H225.54zM191.13 252H196.87V254.4H191.13zM517.94 252H523.67V254.4H517.94zM196.87 230.4H202.6V232.8H196.87zM506.47 230.4H512.21V232.8H506.47zM219.8 264H225.54V266.4H219.8zM741.54 264H747.28V266.4H741.54zM237 268.8H242.74V271.2H237zM483.54 268.8H489.27V271.2H483.54zM540.87 268.8H546.61V271.2H540.87zM724.34 268.8H730.08V271.2H724.34zM248.47 271.2H254.2V273.6H248.47zM718.61 271.2H724.34V273.6H718.61zM254.2 247.2H259.94V249.6H254.2zM282.87 280.8H288.6V283.2H282.87zM667.01 280.8H684.21V283.2H667.01zM294.34 283.2H300.07V285.6H294.34zM380.34 283.2H386.07V285.6H380.34zM638.34 283.2H661.28V285.6H638.34zM305.8 285.6H311.54V288H305.8zM615.41 285.6H626.88V288H615.41zM317.27 288H323V290.4H317.27zM586.74 288H598.21V290.4H586.74zM334.47 292.8H340.2V295.2H334.47zM357.4 292.8H363.14V295.2H357.4zM391.8 276H397.54V278.4H391.8zM701.41 276H707.14V278.4H701.41zM454.87 256.8H460.61V259.2H454.87zM477.81 256.8H483.54V259.2H477.81zM466.34 225.6H472.07V228H466.34zM500.74 225.6H506.47V228H500.74zM466.34 254.4H477.81V256.8H466.34zM523.67 254.4H529.41V256.8H523.67zM477.81 223.2H483.54V225.6H477.81zM489.27 223.2H495.01V225.6H489.27zM512.21 235.2H517.94V240H512.21zM512.21 247.2H517.94V252H512.21zM529.41 259.2H535.14V261.6H529.41zM546.61 300H552.34V302.4H546.61zM552.34 304.8H558.07V307.2H552.34zM575.27 316.8H581.01V319.2H575.27zM644.08 316.8H655.54V319.2H644.08zM581.01 319.2H586.74V321.6H581.01zM615.41 319.2H638.34V321.6H615.41zM592.47 321.6H609.68V324H592.47zM638.34 316.8H644.08V321.6H638.34zM655.54 314.4H667.01V319.2H655.54zM667.01 314.4H672.74V316.8H667.01zM672.74 312H678.48V316.8H672.74zM678.48 312H684.21V314.4H678.48zM684.21 278.4H701.41V280.8H684.21zM684.21 309.6H689.94V314.4H684.21zM689.94 309.6H695.68V312H689.94zM695.68 307.2H701.41V312H695.68zM701.41 304.8H707.14V309.6H701.41zM707.14 273.6H718.61V276H707.14zM707.14 302.4H712.88V309.6H707.14zM712.88 302.4H718.61V307.2H712.88zM718.61 300H724.34V304.8H718.61zM724.34 297.6H730.08V304.8H724.34zM730.08 295.2H741.54V302.4H730.08zM735.81 266.4H741.54V268.8H735.81zM741.54 292.8H753.01V300H741.54zM753.01 261.6H756V264H753.01zM753.01 290.4H756V297.6H753.01z"/>
<path fill="#b2dd2d" d="M191.13 228H196.87V230.4H191.13zM460.61 228H466.34V230.4H460.61zM500.74 228H506.47V230.4H500.74zM196.87 254.4H202.6V256.8H196.87zM282.87 254.4H288.6V256.8H282.87zM460.61 254.4H466.34V256.8H460.61zM477.81 254.4H483.54V256.8H477.81zM489.27 254.4H495.01V256.8H489.27zM214.07 237.6H219.8V240H214.07zM431.94 237.6H437.67V240H431.94zM214.07 261.6H219.8V264H214.07zM317.27 261.6H323V264H317.27zM374.6 261.6H380.34V264H374.6zM431.94 261.6H437.67V264H431.94zM231.27 266.4H237V268.8H231.27zM345.94 266.4H351.67V268.8H345.94zM741.54 266.4H747.28V268.8H741.54zM242.74 244.8H248.47V247.2H242.74zM242.74 268.8H248.47V271.2H242.74zM735.81 268.8H741.54V271.2H735.81zM259.94 273.6H265.67V276H259.94zM718.61 273.6H724.34V276H718.61zM265.67 276H271.4V278.4H265.67zM546.61 276H552.34V278.4H546.61zM712.88 276H718.61V278.4H712.88zM271.4 252H277.14V254.4H271.4zM512.21 252H517.94V254.4H512.21zM277.14 278.4H282.87V280.8H277.14zM701.41 278.4H707.14V280.8H701.41zM288.6 280.8H294.34V283.2H288.6zM684.21 280.8H701.41V283.2H684.21zM294.34 256.8H300.07V259.2H294.34zM300.07 283.2H305.8V285.6H300.07zM558.07 283.2H563.81V285.6H558.07zM661.28 283.2H684.21V285.6H661.28zM305.8 259.2H311.54V261.6H305.8zM443.41 259.2H449.14V261.6H443.41zM311.54 285.6H317.27V288H311.54zM374.6 285.6H380.34V288H374.6zM563.81 285.6H569.54V288H563.81zM626.88 285.6H661.28V288H626.88zM328.74 264H334.47V266.4H328.74zM368.87 264H374.6V266.4H368.87zM420.47 264H426.21V266.4H420.47zM753.01 264H756V266.4H753.01zM328.74 290.4H334.47V292.8H328.74zM363.14 290.4H368.87V292.8H363.14zM340.2 292.8H345.94V295.2H340.2zM351.67 292.8H357.4V295.2H351.67zM368.87 288H374.6V290.4H368.87zM575.27 288H586.74V290.4H575.27zM598.21 288H609.68V290.4H598.21zM403.27 247.2H409.01V249.6H403.27zM414.74 242.4H420.47V244.8H414.74zM449.14 232.8H454.87V235.2H449.14zM506.47 232.8H512.21V235.2H506.47zM454.87 230.4H460.61V232.8H454.87zM472.07 225.6H477.81V228H472.07zM495.01 225.6H500.74V228H495.01zM483.54 223.2H489.27V225.6H483.54zM483.54 254.4H489.27V268.8H483.54zM506.47 247.2H512.21V252H506.47zM512.21 240H517.94V247.2H512.21zM563.81 312H569.54V314.4H563.81zM655.54 312H667.01V314.4H655.54zM569.54 314.4H575.27V316.8H569.54zM638.34 314.4H649.81V316.8H638.34zM586.74 319.2H615.41V321.6H586.74zM615.41 316.8H632.61V319.2H615.41zM632.61 314.4H638.34V319.2H632.61zM649.81 312H655.54V316.8H649.81zM667.01 309.6H672.74V314.4H667.01zM672.74 307.2H684.21V312H672.74zM684.21 304.8H689.94V309.6H684.21zM689.94 302.4H695.68V309.6H689.94zM695.68 300H701.41V307.2H695.68zM701.41 300H707.14V304.8H701.41zM707.14 276H712.88V280.8H707.14zM707.14 297.6H712.88V302.4H707.14zM712.88 295.2H718.61V302.4H712.88zM718.61 292.8H724.34V300H718.61zM724.34 271.2H730.08V273.6H724.34zM724.34 290.4H730.08V297.6H724.34zM730.08 268.8H735.81V273.6H730.08zM730.08 290.4H735.81V295.2H730.08zM735.81 288H741.54V295.2H735.81zM741.54 288H747.28V292.8H741.54zM747.28 264H753.01V268.8H747.28zM747.28 285.6H753.01V292.8H747.28zM753.01 285.6H756V290.4H753.01z"/>
<path fill="#aadc32" d="M151 196.8H156.73V199.2H151zM162.47 228H168.2V230.4H162.47zM466.34 228H472.07V230.4H466.34zM495.01 228H500.74V230.4H495.01zM179.67 216H185.4V218.4H179.67zM185.4 223.2H191.13V225.6H185.4zM202.6 256.8H208.34V259.2H202.6zM449.14 256.8H454.87V259.2H449.14zM208.34 259.2H214.07V261.6H208.34zM380.34 259.2H386.07V261.6H380.34zM437.67 259.2H443.41V261.6H437.67zM225.54 264H231.27V266.4H225.54zM535.14 264H540.87V266.4H535.14zM231.27 242.4H237V244.8H231.27zM237 266.4H242.74V268.8H237zM351.67 266.4H363.14V268.8H351.67zM409.01 266.4H414.74V268.8H409.01zM254.2 271.2H259.94V273.6H254.2zM259.94 249.6H265.67V252H259.94zM271.4 276H277.14V278.4H271.4zM495.01 276H500.74V278.4H495.01zM282.87 278.4H288.6V280.8H282.87zM386.07 278.4H391.8V280.8H386.07zM294.34 280.8H300.07V283.2H294.34zM523.67 280.8H529.41V283.2H523.67zM552.34 280.8H558.07V283.2H552.34zM305.8 283.2H311.54V285.6H305.8zM323 288H328.74V290.4H323zM535.14 288H540.87V290.4H535.14zM569.54 288H575.27V290.4H569.54zM609.68 288H632.61V290.4H609.68zM655.54 288H661.28V290.4H655.54zM334.47 290.4H340.2V292.8H334.47zM345.94 292.8H351.67V295.2H345.94zM426.21 240H431.94V242.4H426.21zM443.41 235.2H449.14V237.6H443.41zM466.34 252H483.54V254.4H466.34zM506.47 252H512.21V254.4H506.47zM477.81 225.6H483.54V228H477.81zM489.27 225.6H495.01V228H489.27zM483.54 249.6H495.01V254.4H483.54zM489.27 256.8H495.01V261.6H489.27zM489.27 273.6H495.01V276H489.27zM495.01 249.6H500.74V256.8H495.01zM500.74 230.4H506.47V232.8H500.74zM500.74 247.2H506.47V256.8H500.74zM506.47 235.2H512.21V247.2H506.47zM517.94 254.4H523.67V256.8H517.94zM558.07 307.2H563.81V309.6H558.07zM581.01 316.8H586.74V319.2H581.01zM603.94 316.8H615.41V319.2H603.94zM615.41 314.4H632.61V316.8H615.41zM632.61 312H644.08V314.4H632.61zM644.08 309.6H649.81V314.4H644.08zM649.81 309.6H661.28V312H649.81zM661.28 285.6H684.21V288H661.28zM661.28 307.2H667.01V312H661.28zM667.01 304.8H672.74V309.6H667.01zM672.74 302.4H684.21V307.2H672.74zM684.21 283.2H695.68V288H684.21zM684.21 300H689.94V304.8H684.21zM689.94 295.2H695.68V302.4H689.94zM695.68 283.2H701.41V300H695.68zM701.41 280.8H707.14V300H701.41zM707.14 280.8H712.88V297.6H707.14zM712.88 278.4H718.61V295.2H712.88zM718.61 276H724.34V292.8H718.61zM724.34 273.6H735.81V290.4H724.34zM735.81 271.2H741.54V278.4H735.81zM735.81 280.8H747.28V288H735.81zM741.54 268.8H747.28V273.6H741.54zM747.28 268.8H753.01V271.2H747.28zM747.28 280.8H753.01V285.6H747.28zM753.01 266.4H756V271.2H753.01zM753.01 278.4H756V285.6H753.01z"/>
<path fill="#a5db36" d="M156.73 199.2H162.47V201.6H156.73zM156.73 225.6H162.47V228H156.73zM483.54 225.6H489.27V228H483.54zM162.47 201.6H168.2V204H162.47zM168.2 230.4H173.93V232.8H168.2zM460.61 230.4H466.34V232.8H460.61zM495.01 230.4H500.74V232.8H495.01zM185.4 244.8H191.13V247.2H185.4zM409.01 244.8H414.74V247.2H409.01zM191.13 249.6H196.87V252H191.13zM472.07 249.6H483.54V252H472.07zM202.6 235.2H208.34V237.6H202.6zM219.8 240H225.54V242.4H219.8zM219.8 261.6H225.54V264H219.8zM311.54 261.6H317.27V264H311.54zM426.21 261.6H431.94V264H426.21zM489.27 261.6H495.01V264H489.27zM248.47 247.2H254.2V249.6H248.47zM483.54 247.2H495.01V249.6H483.54zM248.47 268.8H254.2V271.2H248.47zM403.27 268.8H409.01V271.2H403.27zM265.67 252H271.4V254.4H265.67zM460.61 252H466.34V254.4H460.61zM265.67 273.6H271.4V276H265.67zM277.14 254.4H282.87V256.8H277.14zM454.87 254.4H460.61V256.8H454.87zM506.47 254.4H517.94V256.8H506.47zM288.6 256.8H294.34V259.2H288.6zM386.07 256.8H391.8V259.2H386.07zM495.01 256.8H500.74V259.2H495.01zM523.67 256.8H529.41V259.2H523.67zM300.07 259.2H305.8V261.6H300.07zM317.27 285.6H323V288H317.27zM323 264H328.74V266.4H323zM328.74 288H334.47V290.4H328.74zM632.61 288H649.81V290.4H632.61zM340.2 266.4H345.94V268.8H340.2zM363.14 266.4H368.87V268.8H363.14zM357.4 290.4H363.14V292.8H357.4zM586.74 290.4H603.94V292.8H586.74zM655.54 290.4H661.28V292.8H655.54zM397.54 271.2H403.27V273.6H397.54zM437.67 237.6H443.41V240H437.67zM472.07 228H477.81V230.4H472.07zM489.27 228H495.01V230.4H489.27zM495.01 244.8H500.74V249.6H495.01zM500.74 232.8H506.47V247.2H500.74zM540.87 292.8H546.61V295.2H540.87zM552.34 302.4H558.07V304.8H552.34zM563.81 309.6H569.54V312H563.81zM632.61 309.6H644.08V312H632.61zM575.27 314.4H581.01V316.8H575.27zM603.94 314.4H615.41V316.8H603.94zM586.74 316.8H603.94V319.2H586.74zM615.41 312H632.61V314.4H615.41zM644.08 307.2H649.81V309.6H644.08zM649.81 288H655.54V292.8H649.81zM661.28 288H667.01V292.8H661.28zM649.81 304.8H661.28V309.6H649.81zM661.28 302.4H667.01V307.2H661.28zM667.01 288H672.74V295.2H667.01zM689.94 288H695.68V295.2H689.94zM667.01 297.6H672.74V304.8H667.01zM672.74 288H684.21V302.4H672.74zM684.21 288H689.94V300H684.21zM735.81 278.4H741.54V280.8H735.81zM741.54 273.6H747.28V280.8H741.54zM747.28 271.2H753.01V280.8H747.28zM753.01 271.2H756V278.4H753.01z"/>
<path fill="#a0da39" d="M151 223.2H156.73V225.6H151zM173.93 211.2H179.67V213.6H173.93zM179.67 237.6H185.4V240H179.67zM208.34 237.6H214.07V240H208.34zM196.87 232.8H202.6V235.2H196.87zM454.87 232.8H460.61V235.2H454.87zM196.87 252H202.6V254.4H196.87zM214.07 259.2H219.8V261.6H214.07zM495.01 259.2H500.74V261.6H495.01zM225.54 242.4H231.27V244.8H225.54zM420.47 242.4H426.21V244.8H420.47zM231.27 264H237V266.4H231.27zM414.74 264H420.47V266.4H414.74zM489.27 264H495.01V266.4H489.27zM237 244.8H242.74V247.2H237zM483.54 244.8H489.27V247.2H483.54zM242.74 266.4H248.47V268.8H242.74zM334.47 266.4H340.2V268.8H334.47zM259.94 271.2H265.67V273.6H259.94zM489.27 271.2H495.01V273.6H489.27zM540.87 271.2H546.61V273.6H540.87zM277.14 276H282.87V278.4H277.14zM288.6 278.4H294.34V280.8H288.6zM517.94 278.4H523.67V280.8H517.94zM300.07 280.8H305.8V283.2H300.07zM380.34 280.8H386.07V283.2H380.34zM311.54 283.2H317.27V285.6H311.54zM323 285.6H328.74V288H323zM340.2 290.4H345.94V292.8H340.2zM351.67 290.4H357.4V292.8H351.67zM575.27 290.4H586.74V292.8H575.27zM603.94 290.4H638.34V292.8H603.94zM391.8 254.4H397.54V256.8H391.8zM443.41 256.8H449.14V259.2H443.41zM500.74 256.8H506.47V259.2H500.74zM449.14 235.2H454.87V237.6H449.14zM466.34 230.4H472.07V232.8H466.34zM489.27 230.4H495.01V232.8H489.27zM466.34 249.6H472.07V252H466.34zM477.81 228H489.27V230.4H477.81zM477.81 247.2H483.54V249.6H477.81zM489.27 242.4H495.01V247.2H489.27zM495.01 232.8H500.74V244.8H495.01zM529.41 261.6H535.14V264H529.41zM546.61 297.6H552.34V300H546.61zM563.81 288H569.54V290.4H563.81zM569.54 312H575.27V314.4H569.54zM609.68 312H615.41V314.4H609.68zM581.01 314.4H586.74V316.8H581.01zM598.21 314.4H603.94V316.8H598.21zM615.41 309.6H626.88V312H615.41zM626.88 307.2H632.61V312H626.88zM632.61 307.2H638.34V309.6H632.61zM638.34 290.4H649.81V295.2H638.34zM638.34 304.8H644.08V309.6H638.34zM644.08 302.4H649.81V307.2H644.08zM649.81 292.8H661.28V304.8H649.81zM661.28 292.8H667.01V302.4H661.28zM667.01 295.2H672.74V297.6H667.01z"/>
<path fill="#9bd93c" d="M168.2 206.4H173.93V208.8H168.2zM173.93 232.8H179.67V235.2H173.93zM460.61 232.8H466.34V235.2H460.61zM191.13 230.4H196.87V232.8H191.13zM472.07 230.4H489.27V232.8H472.07zM202.6 254.4H208.34V256.8H202.6zM271.4 254.4H277.14V256.8H271.4zM449.14 254.4H454.87V256.8H449.14zM208.34 256.8H214.07V259.2H208.34zM282.87 256.8H288.6V259.2H282.87zM506.47 256.8H512.21V259.2H506.47zM517.94 256.8H523.67V259.2H517.94zM214.07 240H219.8V242.4H214.07zM431.94 240H437.67V242.4H431.94zM225.54 261.6H231.27V264H225.54zM305.8 261.6H311.54V264H305.8zM495.01 261.6H500.74V264H495.01zM254.2 249.6H259.94V252H254.2zM254.2 268.8H259.94V271.2H254.2zM271.4 273.6H277.14V276H271.4zM391.8 273.6H397.54V276H391.8zM282.87 276H288.6V278.4H282.87zM500.74 276H512.21V278.4H500.74zM294.34 259.2H300.07V261.6H294.34zM431.94 259.2H437.67V261.6H431.94zM294.34 278.4H300.07V280.8H294.34zM305.8 280.8H311.54V283.2H305.8zM317.27 264H323V266.4H317.27zM334.47 288H340.2V290.4H334.47zM363.14 288H368.87V290.4H363.14zM345.94 290.4H351.67V292.8H345.94zM569.54 290.4H575.27V292.8H569.54zM368.87 285.6H374.6V288H368.87zM374.6 283.2H380.34V285.6H374.6zM529.41 283.2H535.14V285.6H529.41zM397.54 252H403.27V254.4H397.54zM454.87 252H460.61V254.4H454.87zM443.41 237.6H449.14V240H443.41zM472.07 247.2H477.81V249.6H472.07zM477.81 244.8H483.54V247.2H477.81zM483.54 242.4H489.27V244.8H483.54zM489.27 232.8H495.01V242.4H489.27zM489.27 266.4H495.01V271.2H489.27zM558.07 304.8H563.81V307.2H558.07zM626.88 304.8H632.61V307.2H626.88zM575.27 312H581.01V314.4H575.27zM603.94 312H609.68V314.4H603.94zM586.74 314.4H598.21V316.8H586.74zM592.47 292.8H598.21V295.2H592.47zM615.41 292.8H626.88V295.2H615.41zM609.68 309.6H615.41V312H609.68zM615.41 307.2H626.88V309.6H615.41zM626.88 292.8H632.61V297.6H626.88zM632.61 292.8H638.34V307.2H632.61zM638.34 295.2H644.08V304.8H638.34zM644.08 295.2H649.81V302.4H644.08z"/>
<path fill="#95d840" d="M162.47 225.6H168.2V228H162.47zM219.8 259.2H225.54V261.6H219.8zM500.74 259.2H506.47V261.6H500.74zM231.27 244.8H237V247.2H231.27zM472.07 244.8H477.81V247.2H472.07zM237 264H242.74V266.4H237zM242.74 247.2H248.47V249.6H242.74zM466.34 247.2H472.07V249.6H466.34zM248.47 266.4H254.2V268.8H248.47zM328.74 266.4H334.47V268.8H328.74zM259.94 252H265.67V254.4H259.94zM265.67 271.2H271.4V273.6H265.67zM317.27 283.2H323V285.6H317.27zM328.74 285.6H334.47V288H328.74zM558.07 285.6H563.81V288H558.07zM357.4 288H363.14V290.4H357.4zM420.47 261.6H426.21V264H420.47zM437.67 256.8H443.41V259.2H437.67zM454.87 235.2H460.61V237.6H454.87zM460.61 249.6H466.34V252H460.61zM466.34 232.8H472.07V235.2H466.34zM477.81 232.8H483.54V235.2H477.81zM477.81 242.4H483.54V244.8H477.81zM483.54 232.8H489.27V242.4H483.54zM512.21 276H517.94V278.4H512.21zM563.81 307.2H569.54V309.6H563.81zM609.68 307.2H615.41V309.6H609.68zM569.54 309.6H575.27V312H569.54zM603.94 309.6H609.68V312H603.94zM581.01 312H603.94V314.4H581.01zM586.74 292.8H592.47V295.2H586.74zM598.21 292.8H615.41V295.2H598.21zM615.41 295.2H621.14V297.6H615.41zM615.41 304.8H621.14V307.2H615.41zM621.14 295.2H626.88V307.2H621.14zM626.88 297.6H632.61V304.8H626.88z"/>
<path fill="#90d743" d="M168.2 228H173.93V230.4H168.2zM179.67 218.4H185.4V220.8H179.67zM185.4 225.6H191.13V228H185.4zM185.4 242.4H191.13V244.8H185.4zM219.8 242.4H225.54V244.8H219.8zM426.21 242.4H431.94V244.8H426.21zM472.07 242.4H477.81V244.8H472.07zM191.13 247.2H196.87V249.6H191.13zM460.61 247.2H466.34V249.6H460.61zM214.07 256.8H219.8V259.2H214.07zM277.14 256.8H282.87V259.2H277.14zM512.21 256.8H517.94V259.2H512.21zM231.27 261.6H237V264H231.27zM300.07 261.6H305.8V264H300.07zM242.74 264H248.47V266.4H242.74zM311.54 264H317.27V266.4H311.54zM409.01 264H414.74V266.4H409.01zM495.01 264H500.74V266.4H495.01zM259.94 268.8H265.67V271.2H259.94zM345.94 268.8H351.67V271.2H345.94zM277.14 273.6H282.87V276H277.14zM495.01 273.6H500.74V276H495.01zM288.6 259.2H294.34V261.6H288.6zM426.21 259.2H431.94V261.6H426.21zM288.6 276H294.34V278.4H288.6zM386.07 276H391.8V278.4H386.07zM300.07 278.4H305.8V280.8H300.07zM546.61 278.4H552.34V280.8H546.61zM311.54 280.8H317.27V283.2H311.54zM323 266.4H328.74V268.8H323zM535.14 266.4H540.87V268.8H535.14zM323 283.2H328.74V285.6H323zM552.34 283.2H558.07V285.6H552.34zM340.2 288H345.94V290.4H340.2zM403.27 249.6H409.01V252H403.27zM454.87 249.6H460.61V252H454.87zM414.74 244.8H420.47V247.2H414.74zM466.34 244.8H472.07V247.2H466.34zM437.67 240H443.41V242.4H437.67zM443.41 254.4H449.14V256.8H443.41zM449.14 237.6H454.87V240H449.14zM449.14 252H454.87V254.4H449.14zM460.61 235.2H466.34V237.6H460.61zM472.07 232.8H477.81V235.2H472.07zM477.81 235.2H483.54V242.4H477.81zM552.34 300H558.07V302.4H552.34zM575.27 309.6H581.01V312H575.27zM598.21 309.6H603.94V312H598.21zM581.01 292.8H586.74V295.2H581.01zM603.94 295.2H615.41V297.6H603.94zM603.94 307.2H609.68V309.6H603.94zM609.68 304.8H615.41V307.2H609.68zM615.41 297.6H621.14V304.8H615.41z"/>
<path fill="#8bd646" d="M151 199.2H156.73V201.6H151zM156.73 201.6H162.47V204H156.73zM156.73 223.2H162.47V225.6H156.73zM179.67 235.2H185.4V237.6H179.67zM466.34 235.2H472.07V237.6H466.34zM196.87 249.6H202.6V252H196.87zM248.47 249.6H254.2V252H248.47zM202.6 237.6H208.34V240H202.6zM454.87 237.6H460.61V240H454.87zM208.34 240H214.07V242.4H208.34zM443.41 240H449.14V242.4H443.41zM208.34 254.4H214.07V256.8H208.34zM265.67 254.4H271.4V256.8H265.67zM225.54 244.8H231.27V247.2H225.54zM237 247.2H242.74V249.6H237zM254.2 266.4H259.94V268.8H254.2zM403.27 266.4H409.01V268.8H403.27zM271.4 271.2H277.14V273.6H271.4zM282.87 273.6H288.6V276H282.87zM294.34 276H300.07V278.4H294.34zM305.8 278.4H311.54V280.8H305.8zM317.27 280.8H323V283.2H317.27zM334.47 285.6H340.2V288H334.47zM340.2 268.8H345.94V271.2H340.2zM351.67 268.8H357.4V271.2H351.67zM351.67 288H357.4V290.4H351.67zM466.34 242.4H472.07V244.8H466.34zM472.07 235.2H477.81V242.4H472.07zM523.67 259.2H529.41V261.6H523.67zM546.61 295.2H552.34V297.6H546.61zM586.74 295.2H603.94V297.6H586.74zM558.07 302.4H563.81V304.8H558.07zM563.81 290.4H569.54V292.8H563.81zM575.27 292.8H581.01V295.2H575.27zM581.01 309.6H598.21V312H581.01zM598.21 307.2H603.94V309.6H598.21zM603.94 297.6H609.68V300H603.94zM603.94 304.8H609.68V307.2H603.94zM609.68 297.6H615.41V304.8H609.68z"/>
<path fill="#86d549" d="M151 220.8H156.73V223.2H151zM162.47 204H168.2V206.4H162.47zM173.93 213.6H179.67V216H173.93zM173.93 230.4H179.67V232.8H173.93zM191.13 232.8H196.87V235.2H191.13zM196.87 235.2H202.6V237.6H196.87zM202.6 252H208.34V254.4H202.6zM254.2 252H259.94V254.4H254.2zM225.54 259.2H231.27V261.6H225.54zM282.87 259.2H288.6V261.6H282.87zM506.47 259.2H512.21V261.6H506.47zM237 261.6H242.74V264H237zM294.34 261.6H300.07V264H294.34zM380.34 261.6H386.07V264H380.34zM414.74 261.6H420.47V264H414.74zM500.74 261.6H506.47V264H500.74zM248.47 264H254.2V266.4H248.47zM374.6 264H380.34V266.4H374.6zM328.74 283.2H334.47V285.6H328.74zM345.94 288H351.67V290.4H345.94zM363.14 285.6H368.87V288H363.14zM535.14 285.6H540.87V288H535.14zM368.87 266.4H374.6V268.8H368.87zM380.34 278.4H386.07V280.8H380.34zM397.54 268.8H403.27V271.2H397.54zM409.01 247.2H414.74V249.6H409.01zM454.87 247.2H460.61V249.6H454.87zM431.94 242.4H437.67V244.8H431.94zM431.94 256.8H437.67V259.2H431.94zM437.67 254.4H443.41V256.8H437.67zM449.14 249.6H454.87V252H449.14zM460.61 237.6H466.34V240H460.61zM460.61 244.8H466.34V247.2H460.61zM466.34 237.6H472.07V242.4H466.34zM540.87 290.4H546.61V292.8H540.87zM563.81 304.8H569.54V307.2H563.81zM598.21 304.8H603.94V307.2H598.21zM569.54 292.8H575.27V295.2H569.54zM569.54 307.2H581.01V309.6H569.54zM592.47 307.2H598.21V309.6H592.47zM581.01 295.2H586.74V297.6H581.01zM592.47 297.6H603.94V300H592.47zM603.94 300H609.68V304.8H603.94z"/>
<path fill="#7fd34e" d="M214.07 242.4H219.8V244.8H214.07zM219.8 256.8H225.54V259.2H219.8zM271.4 256.8H277.14V259.2H271.4zM231.27 247.2H237V249.6H231.27zM231.27 259.2H237V261.6H231.27zM386.07 259.2H391.8V261.6H386.07zM242.74 249.6H248.47V252H242.74zM259.94 254.4H265.67V256.8H259.94zM265.67 268.8H271.4V271.2H265.67zM334.47 268.8H340.2V271.2H334.47zM357.4 268.8H363.14V271.2H357.4zM277.14 271.2H282.87V273.6H277.14zM495.01 271.2H500.74V273.6H495.01zM288.6 273.6H294.34V276H288.6zM300.07 276H305.8V278.4H300.07zM305.8 264H311.54V266.4H305.8zM311.54 278.4H317.27V280.8H311.54zM523.67 278.4H529.41V280.8H523.67zM317.27 266.4H323V268.8H317.27zM495.01 266.4H500.74V268.8H495.01zM323 280.8H328.74V283.2H323zM374.6 280.8H380.34V283.2H374.6zM368.87 283.2H374.6V285.6H368.87zM420.47 244.8H426.21V247.2H420.47zM454.87 244.8H460.61V247.2H454.87zM443.41 252H449.14V254.4H443.41zM449.14 240H460.61V242.4H449.14zM460.61 240H466.34V244.8H460.61zM552.34 297.6H558.07V300H552.34zM586.74 297.6H592.47V300H586.74zM558.07 288H563.81V290.4H558.07zM575.27 295.2H581.01V297.6H575.27zM581.01 307.2H592.47V309.6H581.01zM592.47 300H598.21V302.4H592.47zM592.47 304.8H598.21V307.2H592.47zM598.21 300H603.94V304.8H598.21z"/>
<path fill="#7ad151" d="M162.47 223.2H168.2V225.6H162.47zM168.2 208.8H173.93V211.2H168.2zM185.4 228H191.13V230.4H185.4zM185.4 240H191.13V242.4H185.4zM191.13 244.8H196.87V247.2H191.13zM219.8 244.8H225.54V247.2H219.8zM196.87 247.2H202.6V249.6H196.87zM449.14 247.2H454.87V249.6H449.14zM214.07 254.4H219.8V256.8H214.07zM242.74 261.6H248.47V264H242.74zM288.6 261.6H294.34V264H288.6zM248.47 252H254.2V254.4H248.47zM254.2 264H259.94V266.4H254.2zM300.07 264H305.8V266.4H300.07zM529.41 264H535.14V266.4H529.41zM259.94 266.4H265.67V268.8H259.94zM311.54 266.4H317.27V268.8H311.54zM271.4 268.8H277.14V271.2H271.4zM328.74 268.8H334.47V271.2H328.74zM363.14 268.8H368.87V271.2H363.14zM495.01 268.8H500.74V271.2H495.01zM277.14 259.2H282.87V261.6H277.14zM420.47 259.2H426.21V261.6H420.47zM517.94 259.2H523.67V261.6H517.94zM282.87 271.2H288.6V273.6H282.87zM391.8 271.2H397.54V273.6H391.8zM294.34 273.6H300.07V276H294.34zM500.74 273.6H506.47V276H500.74zM540.87 273.6H546.61V276H540.87zM305.8 276H311.54V278.4H305.8zM517.94 276H523.67V278.4H517.94zM317.27 278.4H323V280.8H317.27zM340.2 285.6H345.94V288H340.2zM357.4 285.6H363.14V288H357.4zM391.8 256.8H397.54V259.2H391.8zM437.67 242.4H460.61V244.8H437.67zM558.07 300H563.81V302.4H558.07zM569.54 304.8H586.74V307.2H569.54zM581.01 297.6H586.74V300H581.01zM586.74 300H592.47V307.2H586.74zM592.47 302.4H598.21V304.8H592.47z"/>
<path fill="#75d054" d="M168.2 225.6H173.93V228H168.2zM179.67 220.8H185.4V223.2H179.67zM196.87 237.6H202.6V240H196.87zM202.6 240H208.34V242.4H202.6zM202.6 249.6H208.34V252H202.6zM237 249.6H242.74V252H237zM443.41 249.6H449.14V252H443.41zM208.34 242.4H214.07V244.8H208.34zM208.34 252H214.07V254.4H208.34zM437.67 252H443.41V254.4H437.67zM219.8 254.4H225.54V256.8H219.8zM431.94 254.4H437.67V256.8H431.94zM225.54 247.2H231.27V249.6H225.54zM225.54 256.8H231.27V259.2H225.54zM265.67 256.8H271.4V259.2H265.67zM426.21 256.8H431.94V259.2H426.21zM237 259.2H242.74V261.6H237zM248.47 261.6H254.2V264H248.47zM265.67 266.4H271.4V268.8H265.67zM277.14 268.8H282.87V271.2H277.14zM323 268.8H328.74V271.2H323zM300.07 273.6H305.8V276H300.07zM506.47 273.6H512.21V276H506.47zM328.74 280.8H334.47V283.2H328.74zM546.61 280.8H552.34V283.2H546.61zM334.47 283.2H340.2V285.6H334.47zM351.67 285.6H357.4V288H351.67zM552.34 285.6H558.07V288H552.34zM426.21 244.8H431.94V247.2H426.21zM443.41 244.8H454.87V247.2H443.41zM563.81 292.8H569.54V295.2H563.81zM563.81 302.4H569.54V304.8H563.81zM575.27 302.4H581.01V304.8H575.27zM569.54 295.2H575.27V297.6H569.54zM575.27 297.6H581.01V300H575.27zM581.01 300H586.74V304.8H581.01z"/>
<path fill="#70cf57" d="M151 201.6H156.73V204H151zM156.73 220.8H162.47V223.2H156.73zM179.67 232.8H185.4V235.2H179.67zM191.13 235.2H196.87V237.6H191.13zM191.13 242.4H196.87V244.8H191.13zM214.07 244.8H219.8V247.2H214.07zM431.94 244.8H443.41V247.2H431.94zM214.07 252H219.8V254.4H214.07zM242.74 252H248.47V254.4H242.74zM231.27 249.6H237V252H231.27zM231.27 256.8H237V259.2H231.27zM259.94 256.8H265.67V259.2H259.94zM242.74 259.2H248.47V261.6H242.74zM271.4 259.2H277.14V261.6H271.4zM512.21 259.2H517.94V261.6H512.21zM254.2 254.4H259.94V256.8H254.2zM397.54 254.4H403.27V256.8H397.54zM259.94 264H265.67V266.4H259.94zM294.34 264H300.07V266.4H294.34zM500.74 264H506.47V266.4H500.74zM271.4 266.4H277.14V268.8H271.4zM305.8 266.4H311.54V268.8H305.8zM282.87 261.6H288.6V264H282.87zM409.01 261.6H414.74V264H409.01zM288.6 271.2H294.34V273.6H288.6zM345.94 271.2H351.67V273.6H345.94zM311.54 276H317.27V278.4H311.54zM317.27 268.8H323V271.2H317.27zM323 278.4H328.74V280.8H323zM345.94 285.6H351.67V288H345.94zM386.07 273.6H391.8V276H386.07zM414.74 247.2H420.47V249.6H414.74zM443.41 247.2H449.14V249.6H443.41zM529.41 280.8H535.14V283.2H529.41zM546.61 292.8H552.34V295.2H546.61zM552.34 295.2H558.07V297.6H552.34zM558.07 290.4H563.81V292.8H558.07zM563.81 300H569.54V302.4H563.81zM575.27 300H581.01V302.4H575.27zM569.54 297.6H575.27V300H569.54zM569.54 302.4H575.27V304.8H569.54z"/>
<path fill="#6ccd5a" d="M151 218.4H156.73V220.8H151zM156.73 204H162.47V206.4H156.73zM162.47 206.4H168.2V208.8H162.47zM173.93 216H179.67V218.4H173.93zM173.93 228H179.67V230.4H173.93zM185.4 237.6H191.13V240H185.4zM196.87 244.8H202.6V247.2H196.87zM208.34 244.8H214.07V247.2H208.34zM202.6 242.4H208.34V244.8H202.6zM202.6 247.2H208.34V249.6H202.6zM219.8 247.2H225.54V249.6H219.8zM208.34 249.6H214.07V252H208.34zM225.54 249.6H231.27V252H225.54zM219.8 252H225.54V254.4H219.8zM237 252H242.74V254.4H237zM403.27 252H409.01V254.4H403.27zM225.54 254.4H231.27V256.8H225.54zM248.47 254.4H254.2V256.8H248.47zM237 256.8H242.74V259.2H237zM248.47 259.2H254.2V261.6H248.47zM265.67 259.2H271.4V261.6H265.67zM414.74 259.2H420.47V261.6H414.74zM254.2 261.6H259.94V264H254.2zM277.14 261.6H282.87V264H277.14zM265.67 264H271.4V266.4H265.67zM288.6 264H294.34V266.4H288.6zM403.27 264H409.01V266.4H403.27zM277.14 266.4H282.87V268.8H277.14zM300.07 266.4H305.8V268.8H300.07zM282.87 268.8H294.34V271.2H282.87zM311.54 268.8H317.27V271.2H311.54zM294.34 271.2H305.8V273.6H294.34zM323 271.2H334.47V273.6H323zM340.2 271.2H345.94V273.6H340.2zM305.8 273.6H317.27V276H305.8zM512.21 273.6H517.94V276H512.21zM317.27 276H323V278.4H317.27zM340.2 283.2H345.94V285.6H340.2zM437.67 247.2H443.41V252H437.67zM558.07 297.6H563.81V300H558.07zM563.81 295.2H569.54V300H563.81zM569.54 300H575.27V302.4H569.54z"/>
<path fill="#67cc5c" d="M185.4 230.4H191.13V232.8H185.4zM191.13 237.6H196.87V242.4H191.13zM196.87 240H202.6V244.8H196.87zM202.6 244.8H208.34V247.2H202.6zM208.34 247.2H214.07V249.6H208.34zM420.47 247.2H426.21V249.6H420.47zM214.07 247.2H219.8V252H214.07zM219.8 249.6H225.54V252H219.8zM225.54 252H231.27V254.4H225.54zM431.94 252H437.67V254.4H431.94zM231.27 252H237V256.8H231.27zM237 254.4H242.74V256.8H237zM426.21 254.4H431.94V256.8H426.21zM242.74 254.4H248.47V259.2H242.74zM248.47 256.8H254.2V259.2H248.47zM420.47 256.8H426.21V259.2H420.47zM254.2 256.8H259.94V261.6H254.2zM259.94 259.2H265.67V264H259.94zM265.67 261.6H271.4V264H265.67zM506.47 261.6H512.21V264H506.47zM271.4 261.6H277.14V266.4H271.4zM277.14 264H282.87V266.4H277.14zM282.87 264H288.6V268.8H282.87zM288.6 266.4H294.34V268.8H288.6zM294.34 266.4H300.07V271.2H294.34zM300.07 268.8H305.8V271.2H300.07zM535.14 268.8H540.87V271.2H535.14zM305.8 268.8H311.54V273.6H305.8zM311.54 271.2H317.27V273.6H311.54zM334.47 271.2H340.2V273.6H334.47zM351.67 271.2H357.4V273.6H351.67zM500.74 271.2H506.47V273.6H500.74zM317.27 271.2H323V276H317.27zM323 273.6H328.74V278.4H323zM328.74 278.4H334.47V280.8H328.74zM334.47 280.8H340.2V283.2H334.47zM363.14 283.2H368.87V285.6H363.14zM380.34 276H386.07V278.4H380.34zM540.87 288H546.61V290.4H540.87zM552.34 288H558.07V290.4H552.34zM558.07 292.8H563.81V297.6H558.07z"/>
<path fill="#63cb5f" d="M162.47 220.8H168.2V223.2H162.47zM168.2 211.2H173.93V213.6H168.2zM168.2 223.2H173.93V225.6H168.2zM179.67 223.2H185.4V225.6H179.67zM179.67 230.4H185.4V232.8H179.67zM185.4 232.8H191.13V237.6H185.4zM328.74 273.6H334.47V278.4H328.74zM357.4 283.2H363.14V285.6H357.4zM535.14 283.2H540.87V285.6H535.14zM368.87 280.8H374.6V283.2H368.87zM374.6 278.4H380.34V280.8H374.6zM397.54 266.4H403.27V268.8H397.54zM500.74 266.4H506.47V268.8H500.74zM409.01 249.6H414.74V252H409.01zM426.21 247.2H431.94V249.6H426.21zM431.94 247.2H437.67V252H431.94zM523.67 261.6H529.41V264H523.67zM546.61 290.4H552.34V292.8H546.61zM552.34 290.4H558.07V295.2H552.34z"/>
<path fill="#5cc863" d="M156.73 218.4H162.47V220.8H156.73zM334.47 278.4H340.2V280.8H334.47zM345.94 283.2H357.4V285.6H345.94zM546.61 283.2H552.34V285.6H546.61zM357.4 271.2H363.14V273.6H357.4zM368.87 268.8H374.6V271.2H368.87zM500.74 268.8H506.47V271.2H500.74zM374.6 266.4H380.34V268.8H374.6zM380.34 264H386.07V266.4H380.34zM426.21 252H431.94V254.4H426.21zM540.87 276H546.61V278.4H540.87z"/>
<path fill="#58c765" d="M151 204H156.73V206.4H151zM173.93 218.4H179.67V220.8H173.93zM173.93 225.6H179.67V228H173.93zM179.67 225.6H185.4V230.4H179.67zM334.47 273.6H340.2V278.4H334.47zM340.2 273.6H345.94V276H340.2zM340.2 280.8H345.94V283.2H340.2zM386.07 261.6H391.8V264H386.07zM391.8 268.8H397.54V271.2H391.8zM409.01 259.2H414.74V261.6H409.01zM414.74 249.6H431.94V252H414.74zM420.47 254.4H426.21V256.8H420.47z"/>
<path fill="#54c568" d="M151 216H156.73V218.4H151zM156.73 206.4H162.47V208.8H156.73zM162.47 208.8H168.2V211.2H162.47zM345.94 273.6H351.67V276H345.94zM363.14 271.2H368.87V273.6H363.14zM506.47 271.2H512.21V273.6H506.47zM391.8 259.2H397.54V261.6H391.8zM414.74 256.8H420.47V259.2H414.74zM517.94 261.6H523.67V264H517.94zM523.67 276H529.41V278.4H523.67zM546.61 285.6H552.34V290.4H546.61z"/>
<path fill="#50c46a" d="M162.47 218.4H168.2V220.8H162.47zM168.2 213.6H173.93V216H168.2zM168.2 220.8H173.93V223.2H168.2zM173.93 220.8H179.67V225.6H173.93zM340.2 276H345.94V280.8H340.2zM345.94 280.8H351.67V283.2H345.94zM351.67 273.6H357.4V276H351.67zM517.94 273.6H523.67V276H517.94zM386.07 271.2H391.8V273.6H386.07zM397.54 256.8H403.27V259.2H397.54zM403.27 254.4H409.01V256.8H403.27zM403.27 261.6H409.01V264H403.27zM512.21 261.6H517.94V264H512.21zM420.47 252H426.21V254.4H420.47zM506.47 264H512.21V266.4H506.47zM529.41 266.4H535.14V268.8H529.41zM540.87 285.6H546.61V288H540.87z"/>
<path fill="#4cc26c" d="M156.73 216H162.47V218.4H156.73zM351.67 280.8H368.87V283.2H351.67zM380.34 273.6H386.07V276H380.34zM397.54 264H403.27V266.4H397.54zM409.01 252H414.74V254.4H409.01zM414.74 252H420.47V256.8H414.74zM529.41 278.4H535.14V280.8H529.41z"/>
<path fill="#48c16e" d="M151 206.4H156.73V208.8H151zM151 213.6H156.73V216H151zM156.73 208.8H162.47V211.2H156.73zM162.47 211.2H168.2V213.6H162.47zM168.2 216H173.93V220.8H168.2zM345.94 276H351.67V280.8H345.94zM357.4 273.6H363.14V276H357.4zM368.87 278.4H374.6V280.8H368.87zM374.6 276H380.34V278.4H374.6zM409.01 256.8H414.74V259.2H409.01zM512.21 271.2H517.94V273.6H512.21z"/>
<path fill="#44bf70" d="M156.73 213.6H162.47V216H156.73zM162.47 213.6H168.2V218.4H162.47zM351.67 276H357.4V280.8H351.67zM391.8 266.4H397.54V268.8H391.8zM403.27 259.2H409.01V261.6H403.27zM409.01 254.4H414.74V256.8H409.01zM535.14 271.2H540.87V273.6H535.14zM535.14 280.8H540.87V283.2H535.14zM540.87 278.4H546.61V280.8H540.87z"/>
<path fill="#40bd72" d="M151 208.8H156.73V213.6H151zM156.73 211.2H162.47V213.6H156.73zM357.4 278.4H363.14V280.8H357.4zM363.14 273.6H368.87V276H363.14zM368.87 271.2H374.6V273.6H368.87zM374.6 268.8H380.34V271.2H374.6zM386.07 268.8H391.8V271.2H386.07zM380.34 266.4H386.07V268.8H380.34zM386.07 264H391.8V266.4H386.07zM391.8 261.6H397.54V264H391.8zM397.54 259.2H403.27V264H397.54zM403.27 256.8H409.01V259.2H403.27zM506.47 266.4H512.21V271.2H506.47zM540.87 283.2H546.61V285.6H540.87z"/>
<path fill="#3bbb75" d="M357.4 276H363.14V278.4H357.4zM363.14 278.4H368.87V280.8H363.14zM391.8 264H397.54V266.4H391.8zM523.67 264H529.41V266.4H523.67zM540.87 280.8H546.61V283.2H540.87z"/>
<path fill="#38b977" d="M363.14 276H374.6V278.4H363.14zM374.6 273.6H380.34V276H374.6zM380.34 271.2H386.07V273.6H380.34zM386.07 266.4H391.8V268.8H386.07z"/>
<path fill="#35b779" d="M368.87 273.6H374.6V276H368.87zM374.6 271.2H380.34V273.6H374.6zM380.34 268.8H386.07V271.2H380.34zM512.21 264H517.94V266.4H512.21z"/>
<path fill="#32b67a" d="M512.21 268.8H517.94V271.2H512.21zM529.41 268.8H535.14V271.2H529.41zM517.94 264H523.67V266.4H517.94zM517.94 271.2H523.67V273.6H517.94zM523.67 273.6H529.41V276H523.67zM535.14 278.4H540.87V280.8H535.14z"/>
<path fill="#2fb47c" d="M529.41 276H535.14V278.4H529.41zM535.14 273.6H540.87V276H535.14z"/>
<path fill="#2db27d" d="M512.21 266.4H517.94V268.8H512.21z"/>
<path fill="#2ab07f" d="M535.14 276H540.87V278.4H535.14z"/>
<path fill="#25ac82" d="M517.94 266.4H523.67V271.2H517.94zM529.41 271.2H535.14V276H529.41z"/>
<path fill="#24aa83" d="M523.67 266.4H529.41V268.8H523.67zM523.67 271.2H529.41V273.6H523.67z"/>
<path fill="#20a486" d="M523.67 268.8H529.41V271.2H523.67z"/>
</g>
<path d="M154.5 60.5V420.5M181.5 60.5V420.5M200.5 60.5V420.5M215.5 60.5V420.5M227.5 60.5V420.5M237.5 60.5V420.5M246.5 60.5V420.5M253.5 60.5V420.5M260.5 60.5V420.5M306.5 60.5V420.5M333.5 60.5V420.5M352.5 60.5V420.5M367.5 60.5V420.5M379.5 60.5V420.5M389.5 60.5V420.5M398.5 60.5V420.5M406.5 60.5V420.5M413.5 60.5V420.5M459.5 60.5V420.5M485.5 60.5V420.5M504.5 60.5V420.5M519.5 60.5V420.5M531.5 60.5V420.5M542.5 60.5V420.5M550.5 60.5V420.5M558.5 60.5V420.5M565.5 60.5V420.5M611.5 60.5V420.5M638.5 60.5V420.5M657.5 60.5V420.5M672.5 60.5V420.5M684.5 60.5V420.5M694.5 60.5V420.5M703.5 60.5V420.5M711.5 60.5V420.5M717.5 60.5V420.5M108.5 372.5H756.5M108.5 324.5H756.5M108.5 276.5H756.5M108.5 228.5H756.5M108.5 180.5H756.5M108.5 132.5H756.5M108.5 84.5H756.5" stroke="#b0b0b0" stroke-width="1.11" fill="none"/>
<clipPath id="c"><rect x="108" y="60" width="648" height="360"/></clipPath>
<polyline clip-path="url(#c)" points="260.37,159.6 312.54,173.77 337.34,205.2 397.97,228 501.08,175.19 513.72,171.59 534.53,182.4 549.51,212.39 593.68,228.01 610.97,272.39 801.27,242.41" fill="none" stroke="#666" stroke-width="2.78" stroke-linejoin="round" stroke-linecap="square"/>
<polyline clip-path="url(#c)" points="260.37,343.2 295.48,340.08 352.1,340.07 397.97,346.08 426.97,332.87 470.67,296.75 509.26,278.64 519.24,278.63 531.3,297.6 565.1,333 577.17,338.99 594.53,329.11 616.98,366.01 641.24,383.99 664.63,390 693.87,390 718.13,384 746.05,383.97 796.08,389.98" fill="none" stroke="#666" stroke-width="2.78" stroke-linejoin="round" stroke-linecap="square"/>
<rect x="108.5" y="60.5" width="648" height="360" fill="none" stroke="#000" stroke-width="1.11"/>
<path d="M108.5 420.5V425.5M260.5 420.5V425.5M413.5 420.5V425.5M565.5 420.5V425.5M717.5 420.5V425.5M103.5 420.5H108.5M103.5 372.5H108.5M103.5 324.5H108.5M103.5 276.5H108.5M103.5 228.5H108.5M103.5 180.5H108.5M103.5 132.5H108.5M103.5 84.5H108.5M815.5 420.5H820.5M815.5 360.5H820.5M815.5 300.5H820.5M815.5 240.5H820.5M815.5 180.5H820.5M815.5 120.5H820.5M815.5 60.5H820.5M208.5 498.5V503.5M296.5 498.5V503.5M385.5 498.5V503.5M474.5 498.5V503.5M562.5 498.5V503.5M651.5 498.5V503.5M740.5 498.5V503.5" stroke="#000" stroke-width="1.11" fill="none"/>
<path d="M154.5 420.5V423.4M181.5 420.5V423.4M200.5 420.5V423.4M215.5 420.5V423.4M227.5 420.5V423.4M237.5 420.5V423.4M246.5 420.5V423.4M253.5 420.5V423.4M306.5 420.5V423.4M333.5 420.5V423.4M352.5 420.5V423.4M367.5 420.5V423.4M379.5 420.5V423.4M389.5 420.5V423.4M398.5 420.5V423.4M406.5 420.5V423.4M459.5 420.5V423.4M485.5 420.5V423.4M504.5 420.5V423.4M519.5 420.5V423.4M531.5 420.5V423.4M542.5 420.5V423.4M550.5 420.5V423.4M558.5 420.5V423.4M611.5 420.5V423.4M638.5 420.5V423.4M657.5 420.5V423.4M672.5 420.5V423.4M684.5 420.5V423.4M694.5 420.5V423.4M703.5 420.5V423.4M711.5 420.5V423.4" stroke="#000" stroke-width="0.83" fill="none"/>
<linearGradient id="cb" x1="0" y1="1" x2="0" y2="0"><stop offset="0" stop-color="#fde725"/><stop offset="0.02" stop-color="#f1e51d"/><stop offset="0.04" stop-color="#e5e419"/><stop offset="0.06" stop-color="#d5e21a"/><stop offset="0.08" stop-color="#c8e020"/><stop offset="0.1" stop-color="#bade28"/><stop offset="0.12" stop-color="#aadc32"/><stop offset="0.15" stop-color="#9dd93b"/><stop offset="0.17" stop-color="#90d743"/><stop offset="0.19" stop-color="#81d34d"/><stop offset="0.21" stop-color="#75d054"/><stop offset="0.23" stop-color="#69cd5b"/><stop offset="0.25" stop-color="#5cc863"/><stop offset="0.27" stop-color="#52c569"/><stop offset="0.29" stop-color="#48c16e"/><stop offset="0.31" stop-color="#3dbc74"/><stop offset="0.33" stop-color="#35b779"/><stop offset="0.35" stop-color="#2eb37c"/><stop offset="0.38" stop-color="#27ad81"/><stop offset="0.4" stop-color="#23a983"/><stop offset="0.42" stop-color="#20a486"/><stop offset="0.44" stop-color="#1f9f88"/><stop offset="0.46" stop-color="#1f9a8a"/><stop offset="0.48" stop-color="#1f958b"/><stop offset="0.5" stop-color="#21908d"/><stop offset="0.52" stop-color="#228b8d"/><stop offset="0.54" stop-color="#24868e"/><stop offset="0.56" stop-color="#26818e"/><stop offset="0.58" stop-color="#287c8e"/><stop offset="0.6" stop-color="#2a778e"/><stop offset="0.62" stop-color="#2c718e"/><stop offset="0.65" stop-color="#2e6d8e"/><stop offset="0.67" stop-color="#31688e"/><stop offset="0.69" stop-color="#33628d"/><stop offset="0.71" stop-color="#365d8d"/><stop offset="0.73" stop-color="#38588c"/><stop offset="0.75" stop-color="#3b518b"/><stop offset="0.77" stop-color="#3e4c8a"/><stop offset="0.79" stop-color="#404688"/><stop offset="0.81" stop-color="#423f85"/><stop offset="0.83" stop-color="#443983"/><stop offset="0.85" stop-color="#46337f"/><stop offset="0.88" stop-color="#472c7a"/><stop offset="0.9" stop-color="#482576"/><stop offset="0.92" stop-color="#481f70"/><stop offset="0.94" stop-color="#481769"/><stop offset="0.96" stop-color="#471063"/><stop offset="0.98" stop-color="#46085c"/><stop offset="1" stop-color="#440154"/></linearGradient>
<rect x="797" y="60.5" width="18" height="360" fill="url(#cb)"/>
<rect x="797.5" y="60.5" width="18" height="360" fill="none" stroke="#000" stroke-width="1.11"/>
<path d="M164 474h1v9.6h-1zM166 474h9v9.6h-9zM176 474h1v9.6h-1zM178 474h1v9.6h-1zM182 474h1v9.6h-1zM252 474h3v9.6h-3zM256 474h1v9.6h-1zM347 474h1v9.6h-1zM349 474h2v9.6h-2zM364 474h1v9.6h-1zM371 474h1v9.6h-1zM380 474h2v9.6h-2zM409 474h1v9.6h-1zM412 474h1v9.6h-1zM415 474h1v9.6h-1zM419 474h1v9.6h-1zM425 474h1v9.6h-1zM446 474h1v9.6h-1zM472 474h1v9.6h-1zM480 474h1v9.6h-1zM496 474h1v9.6h-1zM500 474h1v9.6h-1zM507 474h1v9.6h-1zM180 474h1v9.6h-1zM341 474h1v9.6h-1zM360 474h1v9.6h-1zM374 474h1v9.6h-1zM376 474h1v9.6h-1zM387 474h1v9.6h-1zM478 474h1v9.6h-1zM514 474h29v9.6h-29zM544 474h20v9.6h-20zM565 474h1v9.6h-1zM567 474h7v9.6h-7zM575 474h43v9.6h-43zM619 474h11v9.6h-11zM631 474h90v9.6h-90zM722 474h5v9.6h-5zM729 474h7v9.6h-7z" fill="#008000"/>
<path d="M164 483.6h1v14.4h-1zM166 483.6h9v14.4h-9zM176 483.6h1v14.4h-1zM178 483.6h1v14.4h-1zM182 483.6h1v14.4h-1zM252 483.6h3v14.4h-3zM256 483.6h1v14.4h-1zM347 483.6h1v14.4h-1zM349 483.6h2v14.4h-2zM364 483.6h1v14.4h-1zM371 483.6h1v14.4h-1zM380 483.6h2v14.4h-2zM409 483.6h1v14.4h-1zM412 483.6h1v14.4h-1zM415 483.6h1v14.4h-1zM419 483.6h1v14.4h-1zM425 483.6h1v14.4h-1zM446 483.6h1v14.4h-1zM472 483.6h1v14.4h-1zM480 483.6h1v14.4h-1zM496 483.6h1v14.4h-1zM500 483.6h1v14.4h-1zM507 483.6h1v14.4h-1zM514 483.6h26v14.4h-26zM541 483.6h2v14.4h-2zM544 483.6h20v14.4h-20zM565 483.6h1v14.4h-1zM567 483.6h7v14.4h-7zM575 483.6h27v14.4h-27zM603 483.6h15v14.4h-15zM619 483.6h11v14.4h-11zM631 483.6h90v14.4h-90zM723 483.6h4v14.4h-4zM729 483.6h7v14.4h-7z" fill="#0000ff"/>
<rect x="135.5" y="474.5" width="630" height="24" fill="none" stroke="#000" stroke-width="1.11"/>
<text x="431.7" y="51.67" text-anchor="middle" textLength="613.12">HP.PYL..HHN | 100.0Hz | 2013-01-01T00:00:00 - 2025-12-04T04:30:03 | 92186 segments</text>
<text x="432" y="459.8" text-anchor="middle" textLength="65.88">Period [s]</text>
<text x="108.4" y="440.5" text-anchor="middle" textLength="30.75">0.01</text>
<text x="260.77" y="440.5" text-anchor="middle" textLength="22">0.1</text>
<text x="413.14" y="440.5" text-anchor="middle" textLength="8.88">1</text>
<text x="565.5" y="440.5" text-anchor="middle" textLength="17.62">10</text>
<text x="717.87" y="440.5" text-anchor="middle" textLength="26.38">100</text>
<text x="97.98" y="425.5" text-anchor="end" textLength="37.88">−200</text>
<text x="97.98" y="377.5" text-anchor="end" textLength="38.12">−180</text>
<text x="97.98" y="329.5" text-anchor="end" textLength="38.12">−160</text>
<text x="97.98" y="281.5" text-anchor="end" textLength="38">−140</text>
<text x="97.98" y="233.5" text-anchor="end" textLength="38">−120</text>
<text x="97.98" y="185.5" text-anchor="end" textLength="38">−100</text>
<text x="97.98" y="137.5" text-anchor="end" textLength="29.25">−80</text>
<text x="97.98" y="89.5" text-anchor="end" textLength="29.25">−60</text>
<text x="824.22" y="425.5" text-anchor="start" textLength="8.75">0</text>
<text x="824.22" y="365.5" text-anchor="start" textLength="8.75">5</text>
<text x="824.22" y="305.5" text-anchor="start" textLength="17.62">10</text>
<text x="824.22" y="245.5" text-anchor="start" textLength="17.62">15</text>
<text x="824.22" y="185.5" text-anchor="start" textLength="17.5">20</text>
<text x="824.22" y="125.5" text-anchor="start" textLength="17.5">25</text>
<text x="824.22" y="65.5" text-anchor="start" textLength="17.5">30</text>
<text transform="translate(46.5 240.6) rotate(-90)" text-anchor="middle" textLength="182">Amplitude [<tspan font-style="oblique">m</tspan><tspan font-size="9.72" dy="-4.6">2</tspan><tspan dy="4.6">/</tspan><tspan font-style="oblique">s</tspan><tspan font-size="9.72" dy="-4.6">4</tspan><tspan dy="4.6">/</tspan><tspan font-style="oblique">Hz</tspan>] [dB]</text>
<text transform="translate(858.7 243) rotate(-90)" text-anchor="middle">[%]</text>
<text transform="translate(206.2 518) rotate(-30)" text-anchor="end">2014</text>
<text transform="translate(294.2 518) rotate(-30)" text-anchor="end">2016</text>
<text transform="translate(383.2 518) rotate(-30)" text-anchor="end">2018</text>
<text transform="translate(472.2 518) rotate(-30)" text-anchor="end">2020</text>
<text transform="translate(560.2 518) rotate(-30)" text-anchor="end">2022</text>
<text transform="translate(649.2 518) rotate(-30)" text-anchor="end">2024</text>
<text transform="translate(738.2 518) rotate(-30)" text-anchor="end">2026</text>
<rect x="0" y="577" width="900" height="23" fill="#808080"/>
<text x="9" y="594.5" style="fill:#fff" textLength="615.38">Generated by SeedPSD on 2025-12-15 | Calculations updated on 2025-12-05 (Outdated)</text>
</svg>
</body></html>
